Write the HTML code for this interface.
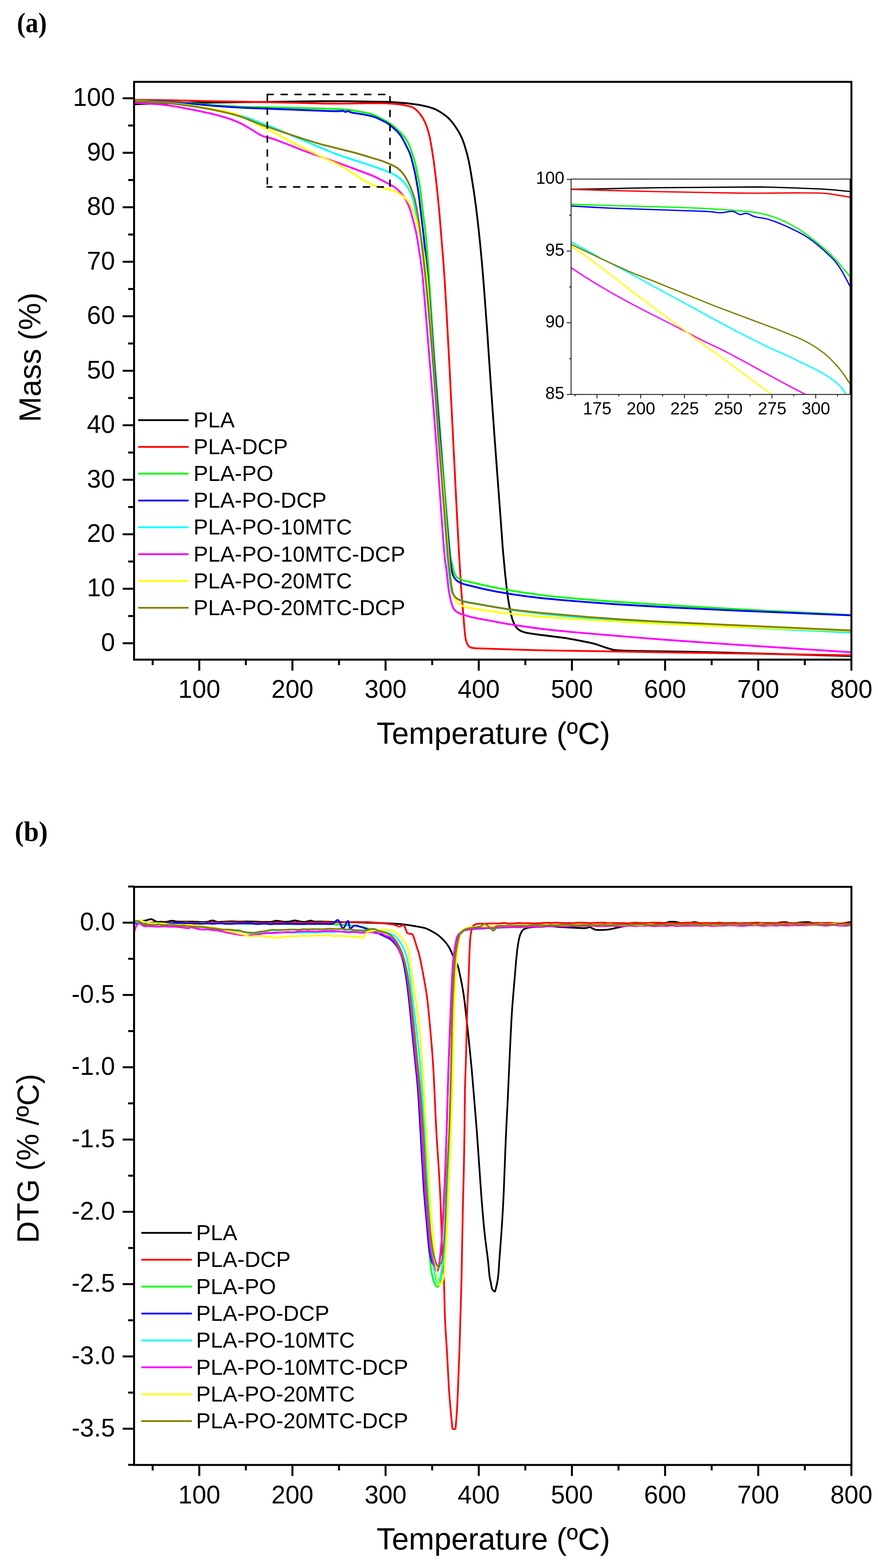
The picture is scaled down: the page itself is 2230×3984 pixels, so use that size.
<!DOCTYPE html><html><head><meta charset="utf-8"><title>TGA and DTG curves</title>
<style>html,body{margin:0;padding:0;background:#fff;}svg{display:block;}</style></head><body>
<svg width="2230" height="3984" viewBox="0 0 2230 3984">
<rect width="2230" height="3984" fill="#fff"/>
<text x="43" y="82" font-family='"Liberation Serif", "Times New Roman", serif' font-weight="bold" font-size="72" textLength="76" lengthAdjust="spacingAndGlyphs">(a)</text>
<defs><clipPath id="ca"><rect x="340.5" y="208.0" width="1822.0" height="1468.0"/></clipPath></defs>
<g clip-path="url(#ca)" fill="none" stroke-width="4.6" stroke-linejoin="round" stroke-linecap="round">
<path stroke="#000000" d="M340.5,265.0 L383.5,263.5 L494.4,261.1 L817.4,257.1 L884.4,257.3 L982.4,258.9 L1002.4,259.7 L1033.3,262.4 L1062.0,266.0 L1071.9,267.9 L1082.6,270.3 L1092.2,272.9 L1100.8,275.7 L1108.1,278.9 L1115.1,282.6 L1124.4,288.6 L1132.4,294.5 L1137.8,299.0 L1142.7,303.9 L1148.0,309.9 L1152.8,316.3 L1158.5,324.5 L1163.9,332.9 L1168.2,340.8 L1172.2,348.9 L1175.7,357.2 L1179.1,366.6 L1185.6,388.6 L1190.6,409.0 L1195.0,432.6 L1203.6,486.9 L1209.2,527.5 L1214.6,573.2 L1219.8,622.9 L1224.3,670.7 L1228.8,725.5 L1237.1,837.2 L1245.8,965.9 L1256.7,1119.6 L1271.6,1319.0 L1277.1,1395.8 L1283.0,1458.5 L1286.8,1493.3 L1290.3,1520.1 L1293.9,1541.8 L1298.0,1561.4 L1301.7,1574.8 L1305.8,1585.0 L1308.1,1589.4 L1310.9,1593.5 L1313.5,1596.5 L1316.4,1599.1 L1321.3,1602.3 L1326.7,1604.8 L1333.4,1606.9 L1342.1,1608.8 L1360.9,1611.6 L1432.4,1620.6 L1461.9,1625.7 L1492.3,1631.7 L1505.0,1634.5 L1514.7,1637.1 L1538.3,1645.4 L1551.6,1649.5 L1559.4,1651.2 L1569.3,1652.3 L1583.3,1653.1 L1603.3,1653.7 L1752.3,1656.0 L1809.3,1657.2 L2164.8,1667.0"/>
<path stroke="#FF0000" d="M340.5,253.7 L435.5,254.9 L540.5,257.4 L696.4,259.9 L827.4,263.1 L868.4,263.2 L950.4,262.0 L974.4,262.3 L993.4,263.1 L1009.3,264.4 L1023.2,266.4 L1037.8,269.4 L1042.6,270.7 L1047.3,272.5 L1050.8,274.3 L1054.1,276.5 L1060.0,281.7 L1067.1,290.1 L1073.4,299.1 L1077.2,306.1 L1080.6,313.3 L1083.8,321.7 L1087.0,331.2 L1091.3,347.6 L1096.0,373.2 L1101.7,409.7 L1107.3,455.4 L1111.3,492.2 L1116.3,545.0 L1126.1,664.6 L1129.2,709.4 L1132.8,768.3 L1141.3,925.1 L1160.2,1300.6 L1165.9,1406.5 L1171.3,1496.3 L1179.9,1600.0 L1181.7,1616.9 L1183.2,1625.7 L1185.5,1633.3 L1188.0,1638.6 L1189.7,1640.9 L1191.6,1642.8 L1194.8,1644.7 L1198.3,1645.8 L1203.2,1646.7 L1211.1,1647.3 L1318.1,1650.8 L1372.0,1652.3 L2163.2,1665.0"/>
<path stroke="#00FF00" d="M340.5,255.5 L403.5,257.5 L447.4,259.7 L493.3,262.8 L548.1,267.6 L606.0,271.1 L631.0,271.9 L691.0,272.8 L829.9,276.0 L868.9,277.8 L883.8,279.0 L896.7,280.6 L931.2,286.8 L943.8,289.9 L950.3,292.3 L956.7,295.2 L979.7,307.3 L986.6,311.3 L992.4,315.2 L999.5,320.7 L1007.8,327.9 L1015.1,334.7 L1021.4,341.1 L1026.6,347.2 L1030.7,352.8 L1033.9,357.9 L1037.2,364.1 L1042.9,377.9 L1051.2,402.6 L1054.1,413.1 L1056.4,422.9 L1065.3,468.0 L1067.7,481.8 L1074.3,540.4 L1080.2,585.0 L1082.8,611.9 L1088.6,687.7 L1099.4,854.3 L1104.9,931.1 L1129.1,1239.2 L1141.9,1393.7 L1143.5,1409.6 L1144.8,1418.5 L1151.9,1449.6 L1154.1,1456.2 L1156.7,1461.5 L1159.6,1465.4 L1163.2,1468.7 L1167.4,1471.2 L1171.9,1473.1 L1188.3,1477.5 L1247.8,1490.9 L1282.1,1497.8 L1315.6,1503.5 L1371.1,1511.5 L1392.9,1514.2 L1422.7,1517.2 L1478.5,1522.2 L1542.3,1527.4 L1642.1,1534.2 L1898.6,1549.3 L2164.5,1563.0"/>
<path stroke="#0000FF" d="M340.5,256.2 L401.5,258.1 L441.4,260.2 L493.3,264.0 L530.1,267.8 L549.0,269.4 L585.9,272.0 L619.9,273.9 L844.7,282.5 L863.7,282.6 L866.5,282.2 L869.2,281.0 L870.7,281.3 L874.9,283.6 L876.7,284.2 L878.5,284.1 L882.0,282.6 L883.8,282.4 L885.6,282.9 L891.1,285.4 L894.9,286.4 L924.6,291.0 L941.2,294.5 L952.7,297.9 L962.8,302.2 L979.8,310.6 L984.1,313.3 L988.9,316.8 L999.0,325.0 L1007.1,332.4 L1013.3,339.0 L1018.1,345.3 L1021.9,351.3 L1026.2,359.1 L1037.7,382.4 L1041.3,390.7 L1044.7,401.2 L1050.6,424.4 L1054.6,442.0 L1061.6,481.4 L1063.8,497.2 L1075.8,597.5 L1082.2,660.2 L1085.9,700.0 L1126.3,1229.4 L1134.2,1323.1 L1142.3,1413.7 L1143.5,1424.7 L1146.4,1445.5 L1147.6,1451.4 L1149.4,1458.1 L1151.5,1463.7 L1154.5,1468.9 L1158.4,1473.5 L1162.2,1476.7 L1166.4,1479.3 L1171.0,1481.4 L1176.6,1483.6 L1183.3,1485.6 L1227.0,1496.3 L1261.3,1503.2 L1301.7,1510.0 L1340.3,1515.5 L1377.1,1519.9 L1422.9,1524.3 L1486.6,1529.5 L1562.4,1535.1 L1619.3,1538.6 L1709.2,1543.6 L1871.0,1551.5 L2164.7,1563.5"/>
<path stroke="#00FFFF" d="M340.5,256.5 L387.4,258.7 L415.4,260.5 L453.2,264.0 L485.0,267.8 L518.5,273.3 L561.7,281.8 L593.9,288.9 L616.1,295.0 L633.1,300.9 L691.1,322.9 L809.8,373.4 L852.4,390.8 L874.0,398.5 L955.8,425.1 L971.8,430.8 L987.6,437.2 L996.7,441.3 L1002.9,444.5 L1008.0,447.7 L1013.6,451.8 L1020.4,457.7 L1026.0,463.3 L1030.5,468.7 L1035.1,475.2 L1040.0,483.9 L1044.4,493.9 L1048.7,506.2 L1051.8,517.8 L1056.2,539.3 L1061.3,561.8 L1064.7,579.4 L1068.3,603.1 L1072.9,638.9 L1082.4,728.4 L1090.4,816.0 L1096.2,883.7 L1100.9,944.6 L1112.0,1100.2 L1123.7,1245.7 L1134.9,1398.3 L1138.0,1436.2 L1142.2,1473.9 L1144.5,1490.8 L1146.2,1499.6 L1147.9,1505.3 L1150.5,1510.6 L1153.4,1514.5 L1157.7,1518.5 L1162.7,1521.6 L1169.0,1524.4 L1176.6,1526.9 L1187.3,1529.5 L1281.7,1546.9 L1299.5,1549.9 L1320.3,1552.7 L1376.8,1559.7 L1504.3,1571.8 L1571.0,1577.2 L1638.9,1581.5 L2164.5,1607.6"/>
<path stroke="#FF00FF" d="M340.5,261.2 L381.4,263.4 L405.4,265.2 L427.2,267.8 L451.9,271.6 L493.2,279.4 L533.3,288.1 L561.4,295.2 L574.8,299.2 L586.2,303.0 L602.9,309.6 L618.2,316.9 L630.4,323.9 L655.8,339.8 L661.9,343.2 L667.3,345.7 L673.9,347.9 L689.4,351.5 L700.8,355.3 L732.5,367.4 L777.1,385.2 L864.0,415.6 L936.1,442.5 L951.9,448.9 L991.9,469.5 L998.8,473.4 L1003.8,476.7 L1010.0,481.7 L1017.0,488.8 L1022.8,495.7 L1028.5,503.8 L1032.0,509.9 L1035.1,516.1 L1038.6,524.4 L1042.0,533.8 L1045.2,544.4 L1055.0,582.1 L1057.9,595.8 L1061.4,616.5 L1067.7,657.0 L1071.2,682.8 L1073.9,707.6 L1082.0,803.3 L1101.3,1039.5 L1109.6,1147.2 L1125.5,1368.6 L1129.2,1412.4 L1130.6,1425.4 L1134.1,1450.1 L1138.7,1491.9 L1140.8,1505.7 L1143.3,1518.5 L1146.8,1533.0 L1150.1,1542.4 L1152.0,1545.9 L1154.2,1549.1 L1156.1,1551.3 L1159.0,1553.9 L1164.9,1557.5 L1172.3,1560.4 L1194.2,1567.2 L1212.8,1571.2 L1254.1,1578.8 L1279.6,1583.8 L1296.4,1586.6 L1356.7,1595.4 L1382.5,1598.6 L1409.4,1601.6 L1460.1,1606.5 L1526.9,1612.3 L1631.5,1621.0 L1705.3,1626.6 L1849.0,1636.7 L2164.5,1657.5"/>
<path stroke="#FFFF00" d="M340.5,256.2 L425.4,261.2 L448.3,263.2 L472.1,266.1 L522.5,273.6 L558.0,279.7 L583.4,285.3 L593.0,288.0 L601.5,290.8 L610.8,294.5 L620.8,299.1 L663.4,321.3 L690.7,333.7 L737.2,359.0 L808.8,394.8 L824.1,402.1 L850.7,413.7 L860.6,418.6 L870.2,423.9 L881.3,430.6 L922.3,457.4 L937.2,465.6 L946.3,469.6 L955.8,472.9 L966.4,475.9 L984.8,480.4 L993.4,482.9 L1001.9,486.0 L1010.0,489.7 L1018.6,494.9 L1026.5,501.0 L1032.9,507.2 L1038.4,514.3 L1044.6,525.6 L1050.6,538.3 L1053.9,547.7 L1058.9,565.0 L1065.0,588.2 L1073.0,622.3 L1076.8,641.9 L1079.6,661.7 L1084.6,706.4 L1087.2,736.3 L1098.8,890.9 L1113.6,1094.3 L1126.9,1248.8 L1138.1,1394.3 L1141.5,1435.2 L1146.7,1482.9 L1149.1,1498.7 L1151.4,1510.5 L1154.1,1519.0 L1157.1,1525.2 L1160.6,1530.0 L1165.7,1534.6 L1170.7,1537.7 L1176.2,1540.1 L1182.8,1542.2 L1190.6,1544.0 L1214.3,1548.1 L1273.6,1556.8 L1294.5,1559.3 L1340.2,1563.8 L1376.1,1566.9 L1413.0,1569.6 L1475.9,1573.7 L1548.8,1578.0 L1644.6,1583.1 L1713.5,1586.5 L1854.4,1592.2 L2164.6,1603.4"/>
<path stroke="#808000" d="M340.5,257.4 L384.5,259.3 L410.4,260.9 L439.3,263.5 L469.1,267.0 L500.7,271.6 L535.2,277.7 L567.5,284.4 L591.8,290.4 L607.1,295.0 L621.3,299.9 L658.3,314.9 L669.6,319.2 L692.4,326.6 L740.6,343.2 L776.7,354.9 L803.5,363.1 L822.8,368.6 L888.8,384.9 L907.1,389.7 L960.8,405.9 L973.1,409.9 L983.3,413.9 L996.1,419.6 L1002.4,422.7 L1008.3,426.4 L1013.8,430.7 L1018.8,435.5 L1024.0,441.6 L1029.1,448.9 L1035.6,460.2 L1043.1,476.5 L1050.1,495.2 L1053.8,507.7 L1058.0,528.2 L1062.7,554.8 L1073.2,633.1 L1083.5,730.6 L1091.2,814.2 L1096.8,879.0 L1101.6,940.8 L1113.7,1109.4 L1138.1,1418.4 L1143.9,1468.1 L1146.9,1490.9 L1148.4,1499.7 L1150.2,1506.4 L1152.6,1511.8 L1155.9,1516.7 L1160.2,1520.6 L1165.2,1523.7 L1170.7,1526.0 L1178.3,1528.3 L1187.1,1530.4 L1252.1,1541.7 L1288.7,1547.4 L1317.4,1551.0 L1372.1,1557.0 L1500.6,1568.2 L1578.4,1573.9 L1667.2,1579.0 L1845.0,1587.5 L2163.6,1601.9"/>
</g>
<g stroke="#000" stroke-width="4" stroke-dasharray="18.5 16.9" fill="none">
<line x1="677.0" y1="239.9" x2="992.5" y2="239.9"/>
<line x1="677.0" y1="475.0" x2="992.5" y2="475.0" stroke-dashoffset="3.5"/>
<line x1="679.0" y1="237.9" x2="679.0" y2="477.0"/>
<line x1="990.5" y1="237.9" x2="990.5" y2="477.0" stroke-dashoffset="-6"/>
</g>
<defs><clipPath id="ci"><rect x="1450.5" y="455.0" width="708.5" height="547.2"/></clipPath></defs>
<rect x="1450.5" y="455.0" width="708.5" height="547.2" fill="#fff"/>
<g clip-path="url(#ci)" fill="none" stroke-width="3.3" stroke-linejoin="round" stroke-linecap="round">
<path stroke="#000000" d="M1450.0,481.0 L1516.0,480.1 L1597.0,478.1 L1677.0,476.8 L1926.9,475.0 L1958.9,475.6 L2013.9,477.3 L2088.9,480.4 L2116.8,482.3 L2161.5,486.9"/>
<path stroke="#FF0000" d="M1450.0,481.1 L1515.0,483.0 L1667.9,486.9 L1871.9,490.5 L1918.9,490.8 L2025.9,490.0 L2076.9,490.4 L2093.9,491.2 L2106.8,492.5 L2161.9,501.5"/>
<path stroke="#00FF00" d="M1450.0,519.0 L1542.9,522.1 L1714.9,526.7 L1780.8,529.2 L1852.7,533.6 L1903.5,537.8 L1913.5,538.9 L1923.3,540.5 L1944.8,545.3 L1959.2,549.4 L1972.4,554.0 L1985.4,559.3 L1999.0,565.6 L2012.3,572.6 L2026.1,580.7 L2038.7,588.8 L2051.7,598.1 L2067.6,610.3 L2084.6,624.2 L2097.5,635.3 L2108.4,645.5 L2119.7,656.9 L2129.1,667.2 L2161.9,705.9"/>
<path stroke="#0000FF" d="M1450.0,523.4 L1512.9,527.0 L1550.9,528.8 L1790.7,537.0 L1804.7,537.9 L1822.5,540.1 L1828.5,540.6 L1836.5,540.2 L1853.3,537.4 L1860.2,537.0 L1863.2,537.6 L1866.9,538.9 L1875.6,543.8 L1878.4,544.9 L1880.4,545.1 L1882.3,545.0 L1891.9,542.2 L1896.9,542.3 L1902.6,544.0 L1912.4,548.9 L1918.1,550.9 L1923.9,552.1 L1941.7,554.9 L1952.4,557.5 L1969.4,563.4 L1988.9,571.2 L2006.2,579.0 L2029.5,590.5 L2042.6,597.8 L2053.6,604.8 L2065.0,613.0 L2077.4,623.0 L2092.5,636.1 L2107.2,649.7 L2117.8,660.3 L2124.9,668.7 L2132.9,680.2 L2139.2,690.4 L2147.4,705.3 L2161.9,732.9"/>
<path stroke="#00FFFF" d="M1450.0,614.3 L1486.1,633.8 L1527.9,657.3 L1570.7,679.0 L1608.7,699.2 L1692.8,745.4 L1729.0,764.7 L1817.5,813.3 L1870.4,841.7 L1944.5,879.0 L1958.1,885.4 L1985.7,897.3 L2012.8,910.0 L2067.7,936.7 L2086.2,946.5 L2100.8,955.3 L2113.2,963.7 L2124.2,972.4 L2133.0,980.5 L2139.1,987.1 L2143.3,992.7 L2157.7,1017.4"/>
<path stroke="#FF00FF" d="M1450.0,679.9 L1484.2,702.5 L1515.7,722.0 L1553.6,744.3 L1589.4,764.2 L1638.0,789.9 L1714.8,828.6 L1783.0,864.4 L1834.4,889.1 L1853.1,898.6 L1881.3,913.7 L2003.3,980.3 L2079.5,1019.7"/>
<path stroke="#FFFF00" d="M1450.0,624.7 L1482.9,647.4 L1510.4,667.4 L1564.8,708.2 L1605.7,740.4 L1622.4,753.1 L1747.5,846.3 L1853.4,923.4 L1989.4,1024.6"/>
<path stroke="#808000" d="M1450.0,620.6 L1527.6,657.7 L1598.6,689.9 L1612.4,695.9 L1659.0,713.9 L1810.9,775.8 L1917.6,815.9 L1969.2,835.0 L2025.8,857.8 L2040.3,864.4 L2058.8,874.3 L2074.9,884.4 L2092.9,897.1 L2104.2,906.9 L2120.2,923.4 L2128.9,933.1 L2135.3,940.8 L2145.3,954.5 L2161.7,979.6"/>
</g>
<g stroke="#222" stroke-width="2.3" fill="none"><rect x="1450.5" y="455.0" width="708.5" height="547.2"/><line x1="1450.5" y1="1002.3" x2="1439.5" y2="1002.3"/><line x1="1450.5" y1="911.2" x2="1445.5" y2="911.2"/><line x1="1450.5" y1="820.1" x2="1439.5" y2="820.1"/><line x1="1450.5" y1="729.0" x2="1445.5" y2="729.0"/><line x1="1450.5" y1="637.9" x2="1439.5" y2="637.9"/><line x1="1450.5" y1="546.8" x2="1445.5" y2="546.8"/><line x1="1450.5" y1="455.7" x2="1439.5" y2="455.7"/><line x1="1460.6" y1="1002.2" x2="1460.6" y2="1007.2"/><line x1="1516.2" y1="1002.2" x2="1516.2" y2="1012.2"/><line x1="1571.7" y1="1002.2" x2="1571.7" y2="1007.2"/><line x1="1627.3" y1="1002.2" x2="1627.3" y2="1012.2"/><line x1="1682.8" y1="1002.2" x2="1682.8" y2="1007.2"/><line x1="1738.4" y1="1002.2" x2="1738.4" y2="1012.2"/><line x1="1793.9" y1="1002.2" x2="1793.9" y2="1007.2"/><line x1="1849.5" y1="1002.2" x2="1849.5" y2="1012.2"/><line x1="1905.0" y1="1002.2" x2="1905.0" y2="1007.2"/><line x1="1960.6" y1="1002.2" x2="1960.6" y2="1012.2"/><line x1="2016.1" y1="1002.2" x2="2016.1" y2="1007.2"/><line x1="2071.7" y1="1002.2" x2="2071.7" y2="1012.2"/><line x1="2127.2" y1="1002.2" x2="2127.2" y2="1007.2"/></g>
<g font-family='"Liberation Sans", Arial, sans-serif' font-size="43.5" fill="#000"><text x="1433.5" y="467.4" text-anchor="end">100</text><text x="1433.5" y="649.6" text-anchor="end">95</text><text x="1433.5" y="831.8" text-anchor="end">90</text><text x="1433.5" y="1014.0" text-anchor="end">85</text><text x="1516.7" y="1053.3" text-anchor="middle">175</text><text x="1627.8" y="1053.3" text-anchor="middle">200</text><text x="1738.9" y="1053.3" text-anchor="middle">225</text><text x="1850.0" y="1053.3" text-anchor="middle">250</text><text x="1961.1" y="1053.3" text-anchor="middle">275</text><text x="2072.2" y="1053.3" text-anchor="middle">300</text></g>
<rect x="340.5" y="208.0" width="1822.0" height="1468.0" fill="none" stroke="#000" stroke-width="5"/>
<g stroke="#000" stroke-width="5" fill="none"><line x1="340.5" y1="1634.4" x2="311.5" y2="1634.4"/><line x1="340.5" y1="1565.2" x2="325.5" y2="1565.2"/><line x1="340.5" y1="1495.9" x2="311.5" y2="1495.9"/><line x1="340.5" y1="1426.7" x2="325.5" y2="1426.7"/><line x1="340.5" y1="1357.5" x2="311.5" y2="1357.5"/><line x1="340.5" y1="1288.2" x2="325.5" y2="1288.2"/><line x1="340.5" y1="1219.0" x2="311.5" y2="1219.0"/><line x1="340.5" y1="1149.8" x2="325.5" y2="1149.8"/><line x1="340.5" y1="1080.5" x2="311.5" y2="1080.5"/><line x1="340.5" y1="1011.3" x2="325.5" y2="1011.3"/><line x1="340.5" y1="942.1" x2="311.5" y2="942.1"/><line x1="340.5" y1="872.8" x2="325.5" y2="872.8"/><line x1="340.5" y1="803.6" x2="311.5" y2="803.6"/><line x1="340.5" y1="734.3" x2="325.5" y2="734.3"/><line x1="340.5" y1="665.1" x2="311.5" y2="665.1"/><line x1="340.5" y1="595.9" x2="325.5" y2="595.9"/><line x1="340.5" y1="526.6" x2="311.5" y2="526.6"/><line x1="340.5" y1="457.4" x2="325.5" y2="457.4"/><line x1="340.5" y1="388.2" x2="311.5" y2="388.2"/><line x1="340.5" y1="318.9" x2="325.5" y2="318.9"/><line x1="340.5" y1="249.7" x2="311.5" y2="249.7"/></g>
<g font-family='"Liberation Sans", Arial, sans-serif' font-size="64" text-anchor="end" fill="#000"><text x="292" y="1653.9">0</text><text x="292" y="1515.4">10</text><text x="292" y="1377.0">20</text><text x="292" y="1238.5">30</text><text x="292" y="1100.0">40</text><text x="292" y="961.6">50</text><text x="292" y="823.1">60</text><text x="292" y="684.6">70</text><text x="292" y="546.1">80</text><text x="292" y="407.7">90</text><text x="292" y="269.2">100</text></g>
<text transform="translate(103,908) rotate(-90)" font-family='"Liberation Sans", Arial, sans-serif' font-size="78" text-anchor="middle">Mass (%)</text>
<g stroke="#000" stroke-width="5" fill="none"><line x1="387.8" y1="1676.0" x2="387.8" y2="1690.0"/><line x1="506.1" y1="1676.0" x2="506.1" y2="1704.0"/><line x1="624.4" y1="1676.0" x2="624.4" y2="1690.0"/><line x1="742.7" y1="1676.0" x2="742.7" y2="1704.0"/><line x1="861.0" y1="1676.0" x2="861.0" y2="1690.0"/><line x1="979.3" y1="1676.0" x2="979.3" y2="1704.0"/><line x1="1097.7" y1="1676.0" x2="1097.7" y2="1690.0"/><line x1="1216.0" y1="1676.0" x2="1216.0" y2="1704.0"/><line x1="1334.3" y1="1676.0" x2="1334.3" y2="1690.0"/><line x1="1452.6" y1="1676.0" x2="1452.6" y2="1704.0"/><line x1="1570.9" y1="1676.0" x2="1570.9" y2="1690.0"/><line x1="1689.2" y1="1676.0" x2="1689.2" y2="1704.0"/><line x1="1807.5" y1="1676.0" x2="1807.5" y2="1690.0"/><line x1="1925.8" y1="1676.0" x2="1925.8" y2="1704.0"/><line x1="2044.1" y1="1676.0" x2="2044.1" y2="1690.0"/><line x1="2162.4" y1="1676.0" x2="2162.4" y2="1704.0"/></g>
<g font-family='"Liberation Sans", Arial, sans-serif' font-size="64" text-anchor="middle" fill="#000"><text x="506.1" y="1772.5">100</text><text x="742.7" y="1772.5">200</text><text x="979.3" y="1772.5">300</text><text x="1216.0" y="1772.5">400</text><text x="1452.6" y="1772.5">500</text><text x="1689.2" y="1772.5">600</text><text x="1925.8" y="1772.5">700</text><text x="2162.4" y="1772.5">800</text></g>
<text x="1253.0" y="1890.2" font-family='"Liberation Sans", Arial, sans-serif' font-size="77.6" text-anchor="middle">Temperature (ºC)</text>
<g stroke-width="4.5"><line x1="351" y1="1067.4" x2="479" y2="1067.4" stroke="#000000"/><line x1="351" y1="1135.5" x2="479" y2="1135.5" stroke="#FF0000"/><line x1="351" y1="1203.6" x2="479" y2="1203.6" stroke="#00FF00"/><line x1="351" y1="1271.7" x2="479" y2="1271.7" stroke="#0000FF"/><line x1="351" y1="1339.8" x2="479" y2="1339.8" stroke="#00FFFF"/><line x1="351" y1="1408.0" x2="479" y2="1408.0" stroke="#FF00FF"/><line x1="351" y1="1476.1" x2="479" y2="1476.1" stroke="#FFFF00"/><line x1="351" y1="1544.2" x2="479" y2="1544.2" stroke="#808000"/></g>
<g font-family='"Liberation Sans", Arial, sans-serif' font-size="55.3" fill="#000"><text x="491.5" y="1085.9">PLA</text><text x="491.5" y="1154.0">PLA-DCP</text><text x="491.5" y="1222.1">PLA-PO</text><text x="491.5" y="1290.2">PLA-PO-DCP</text><text x="491.5" y="1358.3">PLA-PO-10MTC</text><text x="491.5" y="1426.5">PLA-PO-10MTC-DCP</text><text x="491.5" y="1494.6">PLA-PO-20MTC</text><text x="491.5" y="1562.7">PLA-PO-20MTC-DCP</text></g>
<text x="37.5" y="2137" font-family='"Liberation Serif", "Times New Roman", serif' font-weight="bold" font-size="72" textLength="84" lengthAdjust="spacingAndGlyphs">(b)</text>
<defs><clipPath id="cb"><rect x="340.5" y="2253.3" width="1822.0" height="1468.9"/></clipPath></defs>
<g clip-path="url(#cb)" fill="none" stroke-width="4.4" stroke-linejoin="round" stroke-linecap="round">
<path stroke="#000000" d="M340.5,2340.5 C342.4,2340.6 347.1,2341.2 352.0,2341.0 C356.9,2340.8 364.7,2339.9 370.0,2339.0 C375.3,2338.1 379.3,2335.0 384.0,2335.5 C388.7,2336.0 394.0,2340.9 398.0,2342.0 C402.0,2343.1 404.0,2341.9 408.0,2341.9 C412.0,2342.0 417.2,2342.7 422.0,2342.3 C426.7,2341.9 432.1,2339.6 436.6,2339.4 C441.0,2339.3 444.1,2341.0 448.8,2341.4 C453.4,2341.8 459.4,2341.7 464.4,2341.8 C469.4,2341.8 474.6,2341.6 478.8,2341.6 C482.9,2341.6 485.5,2341.7 489.1,2341.8 C492.6,2341.9 496.4,2341.9 500.0,2342.0 C503.6,2342.1 506.2,2342.5 510.5,2342.6 C514.8,2342.6 521.0,2343.0 525.8,2342.3 C530.6,2341.7 535.1,2338.7 539.3,2338.7 C543.5,2338.6 547.4,2341.5 551.1,2342.1 C554.8,2342.7 557.9,2342.3 561.4,2342.2 C564.9,2342.1 567.8,2341.8 572.1,2341.6 C576.4,2341.4 582.8,2341.1 587.4,2341.0 C592.1,2341.0 595.7,2341.4 600.0,2341.5 C604.3,2341.6 609.0,2341.9 613.3,2341.8 C617.6,2341.8 621.6,2341.4 625.8,2341.3 C630.0,2341.2 634.5,2341.4 638.5,2341.4 C642.6,2341.5 645.7,2341.5 650.1,2341.6 C654.4,2341.8 660.5,2342.2 664.7,2342.3 C669.0,2342.4 671.4,2342.3 675.5,2342.2 C679.6,2342.2 685.1,2342.7 689.5,2342.2 C693.9,2341.7 696.9,2339.4 702.0,2339.4 C707.1,2339.3 714.5,2341.6 720.0,2341.9 C725.5,2342.2 730.2,2342.0 735.0,2341.4 C739.9,2340.9 744.5,2338.8 749.0,2338.8 C753.5,2338.8 757.7,2340.9 762.1,2341.5 C766.6,2342.1 771.1,2342.5 775.5,2342.1 C779.9,2341.7 784.7,2339.2 788.5,2339.1 C792.3,2339.0 794.3,2341.1 798.3,2341.5 C802.2,2341.9 806.8,2341.4 812.3,2341.5 C817.8,2341.6 804.8,2341.2 831.0,2341.9 C857.2,2342.6 938.3,2344.4 969.7,2345.5 C1001.1,2346.6 1005.7,2347.1 1019.6,2348.3 C1033.5,2349.6 1042.8,2351.3 1052.9,2353.0 C1063.0,2354.7 1072.7,2356.1 1080.0,2358.3 C1087.3,2360.5 1091.0,2363.1 1096.6,2366.1 C1102.1,2369.1 1107.8,2372.3 1113.3,2376.6 C1118.8,2380.9 1125.3,2386.9 1129.9,2392.1 C1134.5,2397.3 1137.7,2402.0 1141.0,2407.7 C1144.3,2413.4 1146.4,2419.1 1149.9,2426.5 C1153.4,2433.9 1158.9,2443.1 1162.1,2452.0 C1165.2,2460.9 1166.8,2470.6 1168.8,2479.8 C1170.8,2489.1 1172.4,2496.6 1174.3,2507.5 C1176.2,2518.4 1177.5,2524.2 1180.0,2545.0 C1182.5,2565.8 1186.7,2604.8 1189.6,2632.3 C1192.5,2659.8 1194.8,2682.1 1197.4,2710.0 C1200.0,2737.9 1202.6,2771.1 1205.0,2800.0 C1207.4,2828.9 1209.6,2855.6 1211.7,2883.4 C1213.8,2911.2 1215.5,2939.1 1217.5,2966.9 C1219.5,2994.7 1221.2,3022.5 1223.4,3050.3 C1225.6,3078.1 1228.3,3108.7 1230.9,3133.7 C1233.5,3158.7 1237.1,3182.4 1239.2,3200.5 C1241.3,3218.6 1242.1,3232.5 1243.3,3242.2 C1244.5,3251.9 1245.5,3253.2 1246.6,3258.8 C1247.7,3264.4 1248.5,3271.8 1250.0,3275.5 C1251.5,3279.2 1254.2,3280.2 1255.5,3281.0 C1256.8,3281.8 1256.8,3282.3 1257.7,3280.0 C1258.6,3277.7 1260.0,3271.6 1261.0,3267.2 C1262.0,3262.8 1263.0,3258.4 1263.8,3253.3 C1264.6,3248.2 1265.2,3245.4 1266.0,3236.6 C1266.8,3227.8 1267.2,3217.7 1268.4,3200.5 C1269.6,3183.3 1271.7,3158.7 1273.4,3133.7 C1275.1,3108.7 1277.0,3078.1 1278.4,3050.3 C1279.8,3022.5 1280.7,2994.7 1281.8,2966.9 C1282.9,2939.1 1283.8,2911.2 1285.1,2883.4 C1286.3,2855.6 1287.7,2833.9 1289.3,2800.0 C1290.9,2766.1 1292.9,2717.5 1294.7,2680.0 C1296.5,2642.5 1298.0,2607.1 1300.0,2575.0 C1302.0,2542.9 1305.2,2510.0 1307.0,2487.5 C1308.8,2465.0 1309.7,2453.9 1311.0,2440.0 C1312.3,2426.1 1313.4,2414.5 1315.0,2404.0 C1316.6,2393.5 1318.2,2383.9 1320.5,2377.0 C1322.8,2370.1 1325.3,2365.7 1328.8,2362.4 C1332.3,2359.1 1336.1,2358.4 1341.3,2357.2 C1346.5,2356.0 1350.2,2355.7 1360.0,2355.1 C1369.8,2354.5 1389.7,2353.5 1400.0,2353.5 C1410.3,2353.5 1408.2,2354.4 1422.0,2355.2 C1435.8,2356.0 1470.3,2358.1 1483.0,2358.2 C1495.7,2358.3 1493.3,2355.1 1498.4,2355.8 C1503.5,2356.5 1506.0,2361.5 1513.6,2362.5 C1521.2,2363.5 1536.4,2362.5 1544.0,2361.9 C1551.6,2361.3 1551.7,2360.3 1559.4,2358.8 C1567.1,2357.3 1577.3,2354.9 1590.0,2352.7 C1602.7,2350.5 1626.1,2346.7 1635.7,2345.5 C1645.3,2344.3 1643.3,2345.8 1647.5,2345.8 C1651.7,2345.8 1656.5,2345.6 1661.1,2345.4 C1665.7,2345.3 1670.2,2345.1 1675.0,2345.0 C1679.9,2344.8 1685.8,2345.2 1690.1,2344.8 C1694.4,2344.3 1696.8,2342.6 1700.9,2342.2 C1704.9,2341.8 1709.5,2341.7 1714.4,2342.2 C1719.2,2342.7 1725.7,2344.7 1730.0,2345.2 C1734.3,2345.7 1736.4,2345.3 1740.0,2345.3 C1743.6,2345.3 1747.3,2345.7 1751.4,2345.3 C1755.5,2344.8 1760.5,2342.4 1764.5,2342.4 C1768.4,2342.4 1771.0,2344.6 1774.9,2345.2 C1778.9,2345.9 1784.1,2346.0 1788.1,2346.1 C1792.1,2346.1 1794.5,2345.8 1798.9,2345.7 C1803.4,2345.6 1810.4,2345.4 1814.9,2345.3 C1819.4,2345.2 1821.3,2345.1 1825.8,2345.2 C1830.3,2345.2 1837.7,2345.5 1841.8,2345.6 C1845.8,2345.6 1847.0,2345.6 1850.0,2345.5 C1853.0,2345.4 1855.7,2345.1 1859.6,2345.2 C1863.4,2345.3 1868.8,2345.9 1872.9,2346.0 C1877.1,2346.1 1880.2,2345.9 1884.4,2345.8 C1888.7,2345.6 1894.6,2345.1 1898.5,2345.1 C1902.4,2345.1 1903.7,2345.8 1907.7,2345.8 C1911.6,2345.8 1918.3,2345.1 1922.3,2345.1 C1926.2,2345.1 1927.7,2345.9 1931.3,2346.0 C1934.9,2346.0 1939.7,2345.3 1943.8,2345.2 C1948.0,2345.1 1951.5,2345.2 1956.0,2345.3 C1960.5,2345.4 1966.2,2346.1 1970.9,2345.8 C1975.6,2345.4 1979.8,2343.7 1984.3,2343.3 C1988.7,2342.9 1993.3,2342.8 1997.3,2343.3 C2001.4,2343.7 2004.8,2345.9 2008.4,2346.3 C2012.1,2346.7 2014.9,2346.0 2019.0,2345.6 C2023.1,2345.2 2029.1,2344.1 2033.0,2343.7 C2036.8,2343.3 2039.1,2343.3 2042.3,2343.1 C2045.5,2343.0 2048.5,2342.3 2052.4,2342.7 C2056.3,2343.0 2060.9,2344.8 2065.8,2345.3 C2070.6,2345.7 2076.7,2345.3 2081.5,2345.4 C2086.3,2345.4 2090.1,2345.4 2094.6,2345.4 C2099.1,2345.5 2104.8,2345.6 2108.8,2345.7 C2112.7,2345.9 2115.2,2346.3 2118.5,2346.4 C2121.7,2346.5 2124.1,2346.6 2128.3,2346.5 C2132.5,2346.4 2138.7,2346.2 2143.7,2345.7 C2148.7,2345.1 2154.6,2343.1 2158.2,2343.2 C2161.7,2343.2 2163.9,2345.5 2165.0,2346.0"/>
<path stroke="#FF0000" d="M340.5,2344.0 C342.7,2343.9 348.8,2343.3 353.6,2343.5 C358.4,2343.6 364.7,2344.7 369.3,2344.8 C374.0,2345.0 377.8,2344.6 381.6,2344.4 C385.4,2344.2 388.5,2343.6 392.1,2343.6 C395.7,2343.6 399.5,2344.2 403.1,2344.5 C406.7,2344.7 410.3,2345.1 413.6,2345.0 C416.9,2344.8 419.9,2343.7 423.1,2343.6 C426.3,2343.5 429.2,2344.6 432.7,2344.7 C436.2,2344.7 440.5,2344.2 444.3,2344.1 C448.1,2344.1 451.7,2344.5 455.6,2344.5 C459.4,2344.4 463.4,2343.8 467.4,2343.7 C471.4,2343.6 475.8,2343.7 479.4,2343.9 C483.0,2344.1 485.7,2344.8 489.2,2344.9 C492.6,2344.9 495.9,2344.3 500.0,2344.3 C504.1,2344.3 509.4,2345.0 513.7,2345.0 C517.9,2345.0 521.5,2344.3 525.4,2344.1 C529.4,2344.0 533.1,2344.3 537.4,2344.2 C541.7,2344.1 546.7,2343.5 551.1,2343.5 C555.4,2343.6 559.4,2344.5 563.3,2344.5 C567.3,2344.5 570.5,2343.7 574.7,2343.6 C579.0,2343.4 584.2,2343.5 588.7,2343.6 C593.1,2343.6 597.9,2343.8 601.6,2343.9 C605.3,2343.9 607.7,2343.9 610.9,2343.9 C614.0,2343.9 616.4,2343.7 620.3,2343.9 C624.2,2344.1 629.9,2344.8 634.1,2345.0 C638.3,2345.1 641.7,2344.9 645.6,2344.8 C649.6,2344.8 653.4,2344.7 658.0,2344.6 C662.5,2344.5 668.1,2344.2 673.1,2344.3 C678.1,2344.3 683.4,2345.1 688.2,2345.0 C693.0,2344.9 698.1,2344.0 702.0,2343.8 C705.9,2343.6 708.6,2343.7 711.6,2343.8 C714.6,2344.0 716.0,2344.5 720.0,2344.7 C724.0,2344.9 730.5,2345.4 735.6,2345.2 C740.7,2345.0 745.7,2343.7 750.5,2343.6 C755.3,2343.5 759.7,2344.5 764.4,2344.6 C769.2,2344.8 775.0,2344.7 779.1,2344.5 C783.2,2344.3 785.0,2343.3 789.1,2343.3 C793.2,2343.2 798.7,2344.1 803.6,2344.1 C808.6,2344.1 814.3,2343.5 818.9,2343.4 C823.4,2343.2 827.3,2343.2 831.0,2343.3 C834.7,2343.4 836.8,2344.2 841.0,2344.1 C845.2,2344.1 852.1,2343.1 856.2,2343.0 C860.3,2342.9 861.8,2343.4 865.6,2343.4 C869.5,2343.4 875.6,2343.1 879.5,2343.0 C883.3,2342.9 884.8,2343.0 888.9,2342.9 C892.9,2342.8 898.6,2342.6 903.6,2342.6 C908.7,2342.6 914.9,2342.8 919.2,2342.9 C923.5,2342.9 925.8,2342.5 929.6,2342.6 C933.4,2342.7 930.6,2342.3 941.9,2343.3 C953.2,2344.3 985.4,2347.0 997.4,2348.8 C1009.4,2350.7 1009.8,2354.2 1014.0,2354.4 C1018.2,2354.6 1020.1,2350.2 1022.4,2350.2 C1024.7,2350.2 1025.8,2350.9 1027.9,2354.4 C1030.0,2357.9 1031.6,2367.8 1034.8,2371.0 C1038.0,2374.2 1044.3,2371.0 1047.3,2373.8 C1050.3,2376.6 1050.8,2381.7 1052.9,2387.7 C1055.0,2393.7 1057.7,2403.2 1059.8,2410.0 C1061.9,2416.8 1062.9,2417.3 1065.4,2428.5 C1068.0,2439.7 1071.9,2459.2 1075.1,2477.0 C1078.3,2494.8 1081.9,2512.7 1084.8,2535.3 C1087.7,2558.0 1090.0,2583.8 1092.6,2612.9 C1095.2,2642.0 1097.7,2667.2 1100.3,2710.0 C1102.9,2752.8 1105.9,2830.4 1108.0,2870.0 C1110.1,2909.6 1111.4,2921.7 1113.0,2947.6 C1114.6,2973.5 1116.3,2999.4 1117.6,3025.3 C1118.9,3051.2 1119.8,3077.0 1120.7,3102.9 C1121.6,3128.8 1121.9,3156.8 1123.0,3180.6 C1124.1,3204.4 1126.1,3217.1 1127.3,3245.8 C1128.5,3274.5 1129.0,3322.1 1130.3,3352.6 C1131.6,3383.1 1133.5,3404.2 1134.9,3428.8 C1136.3,3453.4 1137.7,3481.5 1138.7,3500.0 C1139.7,3518.5 1139.9,3524.7 1141.0,3540.0 C1142.1,3555.3 1144.2,3578.1 1145.4,3591.8 C1146.6,3605.5 1147.6,3615.6 1148.3,3622.0 C1149.0,3628.4 1148.1,3628.6 1149.5,3630.0 C1150.9,3631.4 1155.2,3631.8 1156.5,3630.5 C1157.8,3629.2 1157.0,3628.4 1157.6,3622.0 C1158.2,3615.6 1159.2,3606.2 1160.1,3591.8 C1161.0,3577.5 1162.1,3554.5 1162.9,3535.9 C1163.7,3517.3 1164.3,3497.8 1165.0,3480.0 C1165.7,3462.2 1166.3,3450.0 1167.0,3428.8 C1167.7,3407.6 1168.5,3378.0 1169.2,3352.6 C1170.0,3327.2 1170.8,3301.7 1171.5,3276.3 C1172.2,3250.9 1172.4,3236.7 1173.1,3200.0 C1173.8,3163.3 1175.1,3095.8 1175.9,3056.3 C1176.8,3016.8 1177.6,2994.2 1178.2,2963.2 C1178.8,2932.1 1179.3,2902.5 1179.8,2870.0 C1180.3,2837.5 1180.3,2801.2 1181.0,2768.0 C1181.7,2734.8 1183.1,2704.0 1184.0,2671.0 C1184.9,2638.0 1185.5,2599.1 1186.5,2570.0 C1187.5,2540.9 1188.9,2519.8 1189.8,2496.4 C1190.7,2473.1 1191.3,2448.4 1192.1,2429.9 C1192.8,2411.4 1193.4,2396.6 1194.3,2385.5 C1195.2,2374.4 1196.3,2368.9 1197.6,2363.3 C1198.9,2357.8 1199.5,2354.9 1202.1,2352.2 C1204.7,2349.5 1206.9,2348.1 1213.2,2347.2 C1219.5,2346.3 1233.0,2346.8 1240.0,2346.6 C1247.0,2346.4 1251.1,2346.1 1255.3,2346.1 C1259.5,2346.1 1260.8,2346.8 1265.0,2346.6 C1269.1,2346.5 1275.4,2345.3 1280.2,2345.3 C1285.0,2345.3 1289.3,2346.6 1293.6,2346.7 C1297.9,2346.8 1301.4,2346.3 1305.8,2346.1 C1310.3,2345.8 1316.2,2345.3 1320.5,2345.3 C1324.7,2345.3 1327.4,2345.9 1331.4,2346.0 C1335.3,2346.0 1340.2,2345.6 1344.2,2345.6 C1348.3,2345.7 1351.9,2346.2 1355.6,2346.2 C1359.3,2346.2 1362.2,2345.9 1366.6,2345.7 C1371.0,2345.5 1377.8,2345.2 1381.9,2345.0 C1386.0,2344.8 1388.2,2344.6 1391.2,2344.6 C1394.3,2344.6 1396.9,2345.0 1400.0,2345.0 C1403.1,2345.0 1406.5,2344.4 1410.0,2344.3 C1413.6,2344.3 1417.5,2344.6 1421.4,2344.8 C1425.4,2344.9 1429.3,2345.2 1433.6,2345.3 C1437.9,2345.4 1443.1,2345.3 1447.3,2345.3 C1451.5,2345.3 1454.8,2345.5 1458.9,2345.3 C1462.9,2345.1 1467.4,2344.4 1471.7,2344.3 C1476.0,2344.2 1480.1,2344.5 1484.5,2344.7 C1488.9,2344.9 1494.2,2345.4 1498.3,2345.4 C1502.3,2345.5 1505.1,2345.0 1508.9,2344.9 C1512.8,2344.8 1517.5,2344.8 1521.1,2344.6 C1524.7,2344.5 1526.2,2344.1 1530.4,2344.2 C1534.6,2344.3 1541.7,2345.2 1546.4,2345.4 C1551.0,2345.6 1554.6,2345.3 1558.4,2345.3 C1562.3,2345.3 1564.9,2345.3 1569.3,2345.4 C1573.7,2345.4 1580.3,2345.4 1585.0,2345.5 C1589.6,2345.6 1592.6,2346.1 1597.2,2345.9 C1601.8,2345.7 1608.1,2344.4 1612.7,2344.2 C1617.2,2344.0 1620.8,2344.7 1624.6,2344.9 C1628.4,2345.1 1632.0,2345.1 1635.5,2345.2 C1639.0,2345.3 1641.3,2345.6 1645.5,2345.4 C1649.7,2345.3 1655.7,2344.4 1660.5,2344.2 C1665.3,2344.1 1669.8,2344.4 1674.3,2344.6 C1678.9,2344.8 1682.9,2345.2 1687.8,2345.3 C1692.7,2345.5 1699.1,2345.5 1703.6,2345.5 C1708.2,2345.5 1711.4,2345.4 1715.0,2345.4 C1718.6,2345.4 1721.4,2345.5 1725.0,2345.4 C1728.7,2345.2 1733.2,2344.7 1737.0,2344.6 C1740.7,2344.4 1743.4,2344.5 1747.6,2344.5 C1751.8,2344.4 1758.0,2344.3 1762.2,2344.3 C1766.4,2344.3 1769.4,2344.3 1772.8,2344.4 C1776.3,2344.6 1778.4,2345.3 1782.9,2345.4 C1787.5,2345.5 1794.9,2344.9 1800.0,2345.0 C1805.1,2345.1 1809.4,2345.9 1813.7,2345.7 C1818.0,2345.6 1822.1,2344.3 1825.8,2344.2 C1829.5,2344.1 1832.1,2344.8 1836.1,2345.1 C1840.2,2345.3 1845.7,2345.9 1850.1,2345.8 C1854.6,2345.7 1858.4,2344.6 1862.7,2344.6 C1867.0,2344.6 1871.8,2345.7 1875.9,2345.9 C1879.9,2346.1 1882.7,2346.0 1887.2,2345.9 C1891.6,2345.8 1897.9,2345.5 1902.5,2345.3 C1907.1,2345.0 1911.2,2344.6 1914.9,2344.5 C1918.6,2344.3 1920.8,2344.2 1924.7,2344.3 C1928.5,2344.5 1933.1,2345.4 1937.9,2345.6 C1942.8,2345.7 1948.6,2345.5 1953.9,2345.4 C1959.2,2345.3 1965.5,2345.2 1969.8,2345.1 C1974.2,2344.9 1976.3,2344.4 1979.8,2344.5 C1983.3,2344.5 1986.3,2345.2 1990.8,2345.3 C1995.3,2345.4 2002.3,2344.9 2006.7,2344.9 C2011.1,2345.0 2013.6,2345.6 2017.3,2345.7 C2021.1,2345.8 2025.4,2345.4 2029.1,2345.4 C2032.7,2345.5 2034.9,2345.9 2039.1,2346.0 C2043.4,2346.0 2049.4,2346.0 2054.6,2345.8 C2059.7,2345.7 2066.0,2345.2 2070.1,2345.1 C2074.2,2344.9 2075.3,2345.0 2079.3,2345.0 C2083.4,2345.1 2090.3,2345.4 2094.6,2345.3 C2098.9,2345.3 2101.6,2344.8 2105.0,2344.8 C2108.5,2344.8 2110.9,2345.1 2115.2,2345.3 C2119.4,2345.5 2125.7,2346.0 2130.7,2346.1 C2135.6,2346.2 2140.9,2346.0 2145.0,2345.9 C2149.1,2345.9 2152.0,2346.1 2155.3,2346.0 C2158.6,2345.9 2163.4,2345.6 2165.0,2345.5"/>
<path stroke="#00FF00" d="M340.5,2345.0 C342.2,2345.0 347.2,2345.2 350.5,2345.3 C353.9,2345.3 356.8,2345.5 360.7,2345.5 C364.6,2345.5 369.6,2345.0 374.0,2345.0 C378.4,2345.0 383.5,2345.3 387.3,2345.4 C391.1,2345.5 392.8,2345.4 396.6,2345.4 C400.4,2345.4 405.2,2345.3 409.9,2345.4 C414.7,2345.5 420.6,2346.0 425.1,2345.9 C429.6,2345.9 433.1,2345.0 436.7,2345.1 C440.3,2345.1 442.7,2346.0 446.6,2346.2 C450.6,2346.3 456.1,2346.0 460.5,2345.9 C464.8,2345.8 468.8,2345.8 472.6,2345.8 C476.3,2345.8 479.7,2345.8 483.1,2345.9 C486.5,2345.9 489.2,2346.0 493.1,2346.1 C497.0,2346.2 502.5,2346.4 506.5,2346.3 C510.6,2346.1 513.6,2345.3 517.3,2345.3 C520.9,2345.3 524.6,2346.2 528.6,2346.4 C532.6,2346.6 537.1,2346.7 541.2,2346.6 C545.3,2346.5 548.6,2346.2 553.2,2346.0 C557.7,2345.9 564.2,2345.6 568.5,2345.7 C572.8,2345.8 575.0,2346.4 579.0,2346.5 C583.0,2346.6 588.9,2346.3 592.4,2346.3 C595.9,2346.3 596.7,2346.4 600.0,2346.5 C603.3,2346.6 607.5,2346.8 612.1,2346.9 C616.6,2347.0 622.5,2347.3 627.3,2347.3 C632.1,2347.3 635.9,2346.9 640.8,2346.8 C645.6,2346.7 651.6,2346.7 656.4,2346.9 C661.2,2347.0 665.3,2347.7 669.8,2347.7 C674.3,2347.8 678.9,2347.0 683.6,2347.0 C688.2,2347.0 692.8,2347.4 697.8,2347.5 C702.7,2347.6 709.5,2347.7 713.2,2347.7 C716.9,2347.7 716.2,2347.5 720.0,2347.5 C723.8,2347.5 731.2,2347.5 735.8,2347.6 C740.4,2347.8 743.0,2348.5 747.6,2348.4 C752.2,2348.3 759.0,2347.1 763.2,2347.1 C767.4,2347.1 768.6,2348.3 772.7,2348.4 C776.8,2348.4 783.6,2347.6 787.9,2347.6 C792.2,2347.5 794.3,2348.2 798.7,2348.1 C803.1,2348.1 809.6,2347.3 814.3,2347.4 C818.9,2347.4 822.6,2348.1 826.4,2348.2 C830.2,2348.3 833.9,2347.9 836.9,2347.8 C840.0,2347.8 839.3,2347.6 844.8,2348.0 C850.3,2348.4 860.8,2349.3 870.0,2350.0 C879.2,2350.7 889.9,2350.7 900.0,2352.0 C910.1,2353.3 921.5,2355.2 930.8,2358.0 C940.1,2360.8 947.0,2364.7 955.8,2368.5 C964.6,2372.3 976.9,2377.5 983.5,2381.0 C990.1,2384.5 990.9,2385.0 995.5,2389.7 C1000.1,2394.4 1006.5,2401.0 1011.0,2409.1 C1015.5,2417.2 1019.5,2426.9 1022.7,2438.2 C1026.0,2449.5 1027.9,2460.8 1030.5,2477.0 C1033.1,2493.2 1035.6,2512.7 1038.2,2535.3 C1040.8,2558.0 1043.4,2587.0 1046.0,2612.9 C1048.6,2638.8 1051.2,2664.7 1053.8,2690.6 C1056.4,2716.5 1059.1,2736.6 1061.5,2768.2 C1063.9,2799.8 1065.9,2839.7 1068.3,2880.0 C1070.7,2920.3 1073.2,2972.7 1075.7,3009.8 C1078.2,3047.0 1081.1,3074.5 1083.5,3102.9 C1085.9,3131.3 1087.9,3158.5 1090.0,3180.0 C1092.1,3201.5 1094.0,3219.2 1096.0,3232.0 C1098.0,3244.8 1100.2,3251.2 1102.0,3257.0 C1103.8,3262.8 1105.5,3264.9 1107.0,3267.0 C1108.5,3269.1 1109.8,3270.1 1111.3,3269.4 C1112.8,3268.7 1114.4,3267.9 1116.0,3263.0 C1117.6,3258.1 1118.9,3253.7 1121.0,3240.0 C1123.1,3226.3 1126.5,3203.9 1128.5,3180.6 C1130.5,3157.3 1131.5,3131.8 1133.0,3100.0 C1134.5,3068.2 1136.0,3028.3 1137.5,2990.0 C1139.0,2951.7 1140.6,2911.7 1142.0,2870.0 C1143.4,2828.3 1144.7,2790.0 1146.0,2740.0 C1147.3,2690.0 1148.7,2610.7 1150.0,2570.0 C1151.3,2529.3 1152.8,2517.5 1154.0,2496.0 C1155.2,2474.5 1156.2,2455.8 1157.5,2441.0 C1158.8,2426.2 1160.1,2416.7 1161.5,2407.0 C1162.9,2397.3 1164.2,2389.3 1166.0,2383.0 C1167.8,2376.7 1168.0,2372.7 1172.0,2369.0 C1176.0,2365.3 1178.7,2363.0 1190.0,2361.0 C1201.3,2359.0 1229.6,2357.8 1240.0,2357.0 C1250.4,2356.2 1248.7,2356.3 1252.4,2356.1 C1256.0,2356.0 1258.7,2356.3 1261.9,2356.1 C1265.2,2356.0 1268.6,2355.4 1272.0,2355.3 C1275.3,2355.2 1278.5,2355.5 1282.0,2355.5 C1285.6,2355.6 1289.4,2355.9 1293.3,2355.7 C1297.1,2355.6 1301.5,2354.7 1305.2,2354.5 C1308.9,2354.3 1311.4,2354.4 1315.5,2354.3 C1319.6,2354.1 1325.3,2353.6 1329.7,2353.7 C1334.1,2353.7 1337.4,2354.4 1341.9,2354.4 C1346.4,2354.3 1351.8,2353.5 1356.7,2353.3 C1361.7,2353.1 1367.4,2353.4 1371.6,2353.1 C1375.9,2352.9 1378.8,2351.9 1382.2,2351.8 C1385.7,2351.8 1389.5,2352.7 1392.4,2352.8 C1395.4,2352.8 1396.3,2352.0 1400.0,2352.0 C1403.7,2352.0 1409.8,2352.8 1414.9,2352.8 C1419.9,2352.8 1426.2,2352.0 1430.3,2351.8 C1434.4,2351.6 1436.1,2351.4 1439.4,2351.4 C1442.6,2351.5 1445.8,2351.9 1449.9,2352.1 C1454.0,2352.3 1459.2,2352.4 1463.8,2352.5 C1468.4,2352.6 1473.2,2352.7 1477.7,2352.5 C1482.3,2352.4 1486.5,2351.8 1491.2,2351.6 C1495.9,2351.4 1501.2,2351.1 1506.1,2351.2 C1510.9,2351.2 1515.6,2352.0 1520.5,2351.9 C1525.4,2351.9 1531.3,2350.6 1535.6,2350.7 C1539.8,2350.7 1542.5,2352.1 1545.9,2352.2 C1549.3,2352.3 1552.0,2351.5 1555.9,2351.3 C1559.8,2351.1 1564.4,2351.2 1569.1,2351.3 C1573.8,2351.4 1579.8,2352.2 1584.3,2352.1 C1588.7,2352.0 1591.2,2350.7 1595.6,2350.6 C1600.1,2350.4 1606.7,2351.1 1611.0,2351.1 C1615.4,2351.1 1618.5,2350.5 1621.8,2350.5 C1625.1,2350.5 1627.5,2351.1 1630.9,2351.2 C1634.2,2351.4 1637.4,2351.2 1641.8,2351.2 C1646.2,2351.1 1652.1,2351.1 1657.3,2351.0 C1662.5,2350.8 1668.0,2350.1 1673.0,2350.1 C1678.0,2350.2 1682.3,2351.4 1687.3,2351.3 C1692.3,2351.3 1698.3,2350.0 1703.0,2350.0 C1707.7,2349.9 1711.2,2350.7 1715.5,2350.9 C1719.8,2351.0 1724.7,2350.6 1728.7,2350.7 C1732.7,2350.7 1735.3,2351.3 1739.6,2351.4 C1744.0,2351.4 1749.6,2351.1 1754.8,2351.0 C1759.9,2350.8 1766.3,2350.7 1770.5,2350.6 C1774.7,2350.6 1776.8,2350.8 1780.0,2350.9 C1783.3,2350.9 1785.9,2351.1 1789.8,2350.9 C1793.7,2350.8 1799.4,2350.1 1803.3,2349.9 C1807.3,2349.7 1810.0,2349.4 1813.4,2349.6 C1816.8,2349.8 1820.1,2351.0 1823.6,2351.2 C1827.1,2351.4 1830.8,2351.2 1834.2,2351.0 C1837.6,2350.8 1840.4,2350.1 1844.2,2350.0 C1847.9,2349.8 1851.8,2350.0 1856.5,2350.0 C1861.1,2349.9 1867.5,2349.7 1872.2,2349.7 C1876.9,2349.6 1880.9,2349.4 1884.6,2349.6 C1888.3,2349.7 1890.8,2350.3 1894.4,2350.4 C1897.9,2350.5 1901.5,2350.2 1905.7,2350.0 C1909.9,2349.8 1915.7,2349.2 1919.6,2349.2 C1923.5,2349.3 1924.7,2350.3 1929.0,2350.3 C1933.2,2350.2 1940.2,2348.9 1944.9,2349.0 C1949.6,2349.1 1952.6,2350.4 1957.1,2350.7 C1961.6,2351.0 1967.3,2350.7 1971.9,2350.6 C1976.5,2350.6 1980.9,2350.7 1984.6,2350.6 C1988.3,2350.4 1990.0,2349.8 1994.0,2349.6 C1998.1,2349.4 2004.4,2349.4 2009.0,2349.4 C2013.5,2349.4 2017.1,2349.4 2021.0,2349.5 C2025.0,2349.6 2028.1,2350.2 2032.7,2350.1 C2037.3,2350.0 2044.0,2349.0 2048.5,2349.0 C2053.0,2349.0 2055.5,2349.8 2059.8,2350.0 C2064.0,2350.1 2069.3,2349.9 2074.0,2349.9 C2078.6,2349.9 2083.0,2350.1 2087.7,2350.0 C2092.5,2350.0 2098.3,2349.8 2102.7,2349.5 C2107.0,2349.2 2109.3,2348.4 2113.6,2348.5 C2118.0,2348.5 2123.6,2349.8 2128.7,2349.8 C2133.7,2349.8 2139.0,2348.7 2143.9,2348.7 C2148.8,2348.7 2154.6,2349.7 2158.1,2349.8 C2161.6,2349.9 2163.8,2349.1 2165.0,2349.0"/>
<path stroke="#0000FF" d="M340.5,2346.0 C343.1,2346.0 351.4,2345.9 356.4,2346.0 C361.3,2346.0 366.3,2346.6 370.4,2346.5 C374.5,2346.4 376.9,2345.5 380.9,2345.3 C384.8,2345.1 390.0,2345.2 394.1,2345.4 C398.3,2345.7 401.3,2346.8 405.8,2346.8 C410.2,2346.8 416.8,2345.7 420.9,2345.5 C425.0,2345.3 426.4,2345.7 430.5,2345.7 C434.5,2345.7 441.0,2345.4 445.3,2345.3 C449.5,2345.3 452.4,2345.4 455.8,2345.5 C459.2,2345.7 462.4,2346.2 465.7,2346.3 C469.1,2346.4 471.9,2346.0 476.0,2346.1 C480.1,2346.2 485.8,2346.6 490.1,2346.7 C494.5,2346.8 497.9,2346.8 502.1,2346.8 C506.2,2346.9 511.1,2347.0 515.1,2346.9 C519.0,2346.8 521.8,2346.1 525.8,2346.1 C529.8,2346.2 534.5,2347.1 538.9,2347.2 C543.3,2347.2 548.2,2346.6 552.2,2346.4 C556.2,2346.2 559.4,2345.9 563.0,2346.0 C566.5,2346.2 569.2,2347.1 573.5,2347.3 C577.7,2347.5 584.2,2347.3 588.7,2347.2 C593.1,2347.1 595.8,2346.7 600.0,2346.5 C604.2,2346.3 609.6,2346.3 614.0,2346.2 C618.3,2346.2 622.3,2346.0 626.3,2346.1 C630.4,2346.1 634.7,2346.1 638.3,2346.3 C641.9,2346.6 644.7,2347.4 648.0,2347.6 C651.2,2347.8 653.7,2347.7 657.6,2347.5 C661.6,2347.3 667.2,2346.2 671.5,2346.3 C675.9,2346.4 679.2,2347.8 683.9,2348.0 C688.7,2348.2 693.8,2347.5 699.8,2347.4 C705.9,2347.3 714.3,2347.5 720.0,2347.4 C725.7,2347.3 729.5,2347.0 734.0,2347.0 C738.4,2347.1 742.7,2347.4 746.8,2347.6 C750.9,2347.7 754.6,2347.9 758.6,2348.0 C762.5,2348.0 767.1,2348.0 770.7,2347.8 C774.3,2347.7 777.0,2347.3 780.1,2347.3 C783.3,2347.3 785.4,2347.6 789.4,2347.7 C793.5,2347.7 799.9,2347.5 804.6,2347.5 C809.2,2347.5 813.6,2347.7 817.5,2347.6 C821.4,2347.6 823.6,2347.2 828.1,2347.2 C832.7,2347.2 839.7,2349.0 844.8,2347.4 C849.9,2345.8 854.3,2335.8 858.7,2337.7 C863.1,2339.5 867.0,2358.1 871.2,2358.5 C875.4,2358.9 880.7,2340.0 883.7,2340.0 C886.7,2340.0 886.4,2356.6 889.2,2358.5 C892.0,2360.4 896.1,2352.3 900.3,2351.6 C904.5,2350.9 909.1,2353.0 914.2,2354.4 C919.3,2355.8 923.9,2357.5 930.8,2360.0 C937.7,2362.5 947.0,2365.9 955.8,2369.6 C964.6,2373.3 976.9,2378.8 983.5,2382.1 C990.1,2385.4 990.9,2385.2 995.5,2389.7 C1000.1,2394.2 1006.5,2401.0 1011.0,2409.1 C1015.5,2417.2 1019.5,2426.9 1022.7,2438.2 C1026.0,2449.5 1027.9,2460.8 1030.5,2477.0 C1033.1,2493.2 1035.6,2512.7 1038.2,2535.3 C1040.8,2558.0 1043.4,2587.0 1046.0,2612.9 C1048.6,2638.8 1051.2,2664.7 1053.8,2690.6 C1056.4,2716.5 1059.1,2736.6 1061.5,2768.2 C1063.9,2799.8 1065.9,2839.7 1068.3,2880.0 C1070.7,2920.3 1073.2,2972.7 1075.7,3009.8 C1078.2,3047.0 1080.9,3074.4 1083.5,3102.9 C1086.1,3131.4 1088.1,3161.2 1091.2,3180.6 C1094.3,3200.0 1098.7,3211.4 1102.1,3219.4 C1105.5,3227.4 1108.8,3232.6 1111.4,3228.7 C1114.0,3224.8 1115.5,3214.4 1117.6,3196.0 C1119.7,3177.6 1121.8,3152.0 1123.9,3118.4 C1126.0,3084.8 1128.2,3035.6 1130.0,2994.2 C1131.8,2952.8 1133.0,2917.4 1134.5,2870.0 C1136.0,2822.6 1137.7,2755.0 1139.2,2710.0 C1140.7,2665.0 1142.1,2635.6 1143.5,2600.0 C1144.9,2564.4 1146.5,2522.9 1147.7,2496.4 C1149.0,2469.9 1149.7,2455.8 1151.0,2441.0 C1152.3,2426.2 1153.9,2417.0 1155.5,2407.7 C1157.1,2398.4 1158.0,2391.0 1160.5,2385.0 C1163.0,2379.0 1163.5,2375.9 1170.7,2371.8 C1178.0,2367.7 1165.8,2363.6 1204.0,2360.3 C1242.2,2357.0 1365.1,2353.4 1400.0,2352.0 C1434.9,2350.6 1409.2,2351.8 1413.5,2351.7 C1417.8,2351.7 1421.7,2351.5 1425.9,2351.6 C1430.1,2351.7 1434.7,2352.1 1438.7,2352.2 C1442.8,2352.2 1445.7,2352.2 1450.0,2352.1 C1454.4,2352.1 1459.8,2351.9 1465.0,2351.8 C1470.1,2351.7 1475.6,2351.5 1480.8,2351.3 C1486.1,2351.2 1491.8,2350.9 1496.3,2351.0 C1500.8,2351.2 1504.4,2352.0 1507.8,2352.1 C1511.3,2352.2 1513.0,2351.7 1517.1,2351.7 C1521.1,2351.7 1527.3,2352.4 1532.2,2352.3 C1537.0,2352.2 1541.7,2351.2 1545.9,2351.1 C1550.1,2351.0 1553.8,2351.7 1557.3,2351.6 C1560.7,2351.5 1562.6,2350.5 1566.7,2350.5 C1570.8,2350.4 1577.7,2351.4 1581.9,2351.5 C1586.1,2351.6 1588.5,2351.0 1592.0,2351.1 C1595.6,2351.1 1599.4,2351.8 1603.1,2351.8 C1606.7,2351.9 1609.9,2351.7 1614.1,2351.5 C1618.3,2351.3 1624.1,2350.8 1628.3,2350.7 C1632.4,2350.7 1635.3,2351.0 1639.0,2351.1 C1642.8,2351.1 1647.0,2351.1 1650.8,2351.1 C1654.7,2351.2 1658.3,2351.6 1662.1,2351.5 C1666.0,2351.3 1669.7,2350.2 1674.1,2350.2 C1678.5,2350.2 1683.8,2351.4 1688.5,2351.5 C1693.2,2351.6 1697.4,2350.8 1702.3,2350.8 C1707.1,2350.8 1713.3,2351.5 1717.4,2351.5 C1721.4,2351.4 1723.4,2350.8 1726.4,2350.6 C1729.5,2350.4 1732.3,2350.3 1735.6,2350.3 C1738.9,2350.3 1742.2,2350.4 1746.3,2350.5 C1750.3,2350.6 1755.9,2351.3 1760.0,2351.2 C1764.1,2351.0 1766.3,2349.6 1770.8,2349.6 C1775.3,2349.6 1782.0,2350.9 1786.8,2350.9 C1791.6,2350.9 1796.0,2349.6 1799.7,2349.7 C1803.4,2349.7 1805.4,2350.9 1809.0,2351.1 C1812.7,2351.3 1817.2,2351.0 1821.7,2350.9 C1826.3,2350.8 1831.4,2350.9 1836.2,2350.7 C1841.1,2350.5 1846.6,2349.8 1850.9,2349.7 C1855.1,2349.6 1857.4,2349.8 1861.6,2350.0 C1865.8,2350.1 1871.2,2350.5 1876.0,2350.6 C1880.7,2350.6 1885.8,2350.3 1890.3,2350.1 C1894.7,2349.9 1898.3,2349.4 1902.6,2349.4 C1906.9,2349.4 1911.9,2350.0 1916.3,2350.2 C1920.6,2350.3 1924.1,2350.2 1928.9,2350.2 C1933.6,2350.3 1940.5,2350.7 1944.7,2350.6 C1949.0,2350.4 1950.6,2349.4 1954.5,2349.3 C1958.3,2349.2 1963.7,2349.8 1967.8,2350.0 C1971.8,2350.2 1974.9,2350.4 1978.8,2350.4 C1982.6,2350.4 1987.4,2350.3 1991.0,2350.0 C1994.6,2349.8 1997.3,2349.1 2000.3,2349.1 C2003.4,2349.1 2005.9,2349.8 2009.5,2350.0 C2013.1,2350.2 2017.8,2350.4 2022.2,2350.3 C2026.5,2350.1 2031.3,2349.3 2035.4,2349.1 C2039.5,2348.9 2043.2,2349.2 2046.9,2349.1 C2050.5,2349.0 2053.3,2348.6 2057.3,2348.6 C2061.3,2348.6 2066.5,2348.7 2070.8,2348.9 C2075.1,2349.1 2079.2,2349.5 2083.0,2349.6 C2086.9,2349.6 2090.2,2349.2 2093.9,2349.0 C2097.6,2348.9 2101.0,2348.9 2105.2,2348.8 C2109.3,2348.7 2114.7,2348.3 2118.9,2348.3 C2123.0,2348.4 2125.6,2348.4 2130.0,2349.0 C2134.4,2349.6 2139.2,2352.0 2145.0,2352.0 C2150.8,2352.0 2161.7,2349.5 2165.0,2349.0"/>
<path stroke="#00FFFF" d="M340.5,2342.0 C343.1,2342.3 351.2,2343.6 356.2,2344.0 C361.2,2344.3 366.1,2343.6 370.3,2343.9 C374.6,2344.2 377.3,2345.5 381.7,2345.7 C386.0,2346.0 392.2,2345.3 396.3,2345.7 C400.4,2346.1 403.1,2347.6 406.5,2348.1 C409.8,2348.6 412.8,2348.3 416.3,2348.5 C419.8,2348.7 423.5,2349.1 427.6,2349.4 C431.7,2349.7 436.6,2349.9 441.0,2350.2 C445.4,2350.5 450.0,2350.7 454.1,2351.0 C458.1,2351.3 461.2,2351.9 465.3,2352.3 C469.4,2352.6 473.5,2352.5 478.7,2352.9 C483.9,2353.3 491.3,2354.0 496.4,2354.4 C501.5,2354.8 505.3,2354.8 509.2,2355.2 C513.0,2355.7 516.1,2356.4 519.4,2356.8 C522.7,2357.3 525.1,2357.4 529.1,2357.9 C533.2,2358.4 539.9,2359.4 543.7,2359.8 C547.5,2360.1 548.6,2359.6 552.0,2360.0 C555.4,2360.4 560.0,2361.4 563.9,2361.9 C567.8,2362.5 571.7,2362.9 575.4,2363.2 C579.0,2363.5 582.5,2363.7 585.8,2364.0 C589.0,2364.2 591.4,2364.3 595.0,2364.6 C598.6,2364.8 603.2,2365.0 607.4,2365.5 C611.6,2366.0 615.5,2366.9 620.2,2367.9 C624.9,2368.8 630.8,2370.3 635.6,2371.1 C640.4,2371.8 644.7,2372.5 649.0,2372.4 C653.3,2372.3 657.6,2371.0 661.7,2370.5 C665.7,2370.1 669.7,2369.9 673.3,2369.8 C676.9,2369.7 680.5,2369.9 683.4,2369.8 C686.3,2369.7 687.7,2369.3 690.6,2369.0 C693.5,2368.7 696.5,2368.3 700.7,2368.3 C704.8,2368.3 710.5,2368.7 715.4,2368.9 C720.3,2369.1 725.3,2369.5 730.0,2369.6 C734.7,2369.7 738.9,2369.8 743.3,2369.8 C747.8,2369.7 752.4,2369.3 756.8,2369.2 C761.1,2369.1 765.5,2369.3 769.5,2369.3 C773.5,2369.3 776.5,2369.4 780.7,2369.3 C784.8,2369.3 789.7,2369.2 794.5,2369.1 C799.4,2369.0 805.1,2369.0 809.8,2368.8 C814.4,2368.7 817.9,2368.2 822.4,2368.0 C826.9,2367.9 832.6,2367.9 836.5,2367.9 C840.4,2368.0 842.5,2368.4 845.7,2368.4 C849.0,2368.3 852.4,2367.7 856.1,2367.4 C859.9,2367.1 863.2,2366.6 868.3,2366.5 C873.3,2366.4 881.2,2366.9 886.4,2366.9 C891.6,2366.9 895.1,2367.1 899.5,2366.8 C903.9,2366.5 908.4,2365.4 912.8,2365.2 C917.2,2365.0 920.9,2365.9 925.8,2365.7 C930.6,2365.5 936.7,2364.1 941.9,2364.0 C947.1,2363.9 952.0,2364.6 956.8,2365.1 C961.6,2365.7 966.2,2366.6 970.6,2367.3 C975.1,2368.1 977.7,2367.5 983.5,2369.6 C989.3,2371.7 998.4,2373.4 1005.2,2380.0 C1012.1,2386.6 1019.4,2397.8 1024.6,2409.1 C1029.8,2420.4 1032.4,2426.9 1036.3,2447.9 C1040.2,2468.9 1044.0,2504.6 1047.9,2535.3 C1051.8,2566.0 1056.0,2600.0 1059.6,2632.3 C1063.2,2664.7 1066.1,2688.1 1069.3,2729.4 C1072.5,2770.7 1075.9,2834.9 1078.5,2880.0 C1081.1,2925.1 1082.9,2963.3 1085.0,3000.0 C1087.1,3036.7 1089.0,3070.0 1091.0,3100.0 C1093.0,3130.0 1095.0,3158.3 1097.0,3180.0 C1099.0,3201.7 1101.2,3217.5 1103.0,3230.0 C1104.8,3242.5 1106.5,3249.8 1108.0,3255.0 C1109.5,3260.2 1110.5,3261.8 1112.0,3261.0 C1113.5,3260.2 1115.3,3256.5 1117.0,3250.0 C1118.7,3243.5 1120.1,3233.6 1122.0,3222.0 C1123.9,3210.4 1126.7,3200.9 1128.5,3180.6 C1130.3,3160.3 1131.5,3131.8 1133.0,3100.0 C1134.5,3068.2 1136.0,3028.3 1137.5,2990.0 C1139.0,2951.7 1140.6,2911.7 1142.0,2870.0 C1143.4,2828.3 1144.7,2790.0 1146.0,2740.0 C1147.3,2690.0 1148.7,2610.7 1150.0,2570.0 C1151.3,2529.3 1152.8,2517.5 1154.0,2496.0 C1155.2,2474.5 1156.2,2455.8 1157.5,2441.0 C1158.8,2426.2 1160.1,2416.7 1161.5,2407.0 C1162.9,2397.3 1164.2,2389.3 1166.0,2383.0 C1167.8,2376.7 1168.0,2372.7 1172.0,2369.0 C1176.0,2365.3 1178.7,2363.0 1190.0,2361.0 C1201.3,2359.0 1229.8,2357.8 1240.0,2357.0 C1250.2,2356.2 1247.8,2356.2 1251.3,2356.0 C1254.8,2355.8 1257.5,2355.8 1260.9,2355.7 C1264.3,2355.6 1267.3,2355.6 1271.5,2355.4 C1275.7,2355.2 1282.0,2354.7 1286.1,2354.5 C1290.3,2354.3 1292.7,2354.2 1296.5,2354.1 C1300.3,2354.0 1304.9,2354.0 1309.1,2353.9 C1313.3,2353.8 1317.9,2353.5 1321.8,2353.5 C1325.6,2353.4 1328.8,2353.5 1332.2,2353.5 C1335.5,2353.6 1337.9,2354.0 1341.7,2353.9 C1345.4,2353.7 1350.3,2352.7 1354.6,2352.5 C1358.9,2352.4 1363.2,2353.2 1367.4,2353.0 C1371.7,2352.9 1376.1,2351.9 1379.9,2351.6 C1383.7,2351.2 1387.1,2351.2 1390.4,2351.1 C1393.8,2351.0 1396.2,2351.1 1400.0,2351.0 C1403.8,2350.9 1408.5,2350.7 1413.3,2350.6 C1418.1,2350.4 1424.1,2350.1 1428.6,2350.3 C1433.0,2350.4 1435.6,2351.3 1440.1,2351.4 C1444.6,2351.5 1451.4,2350.9 1455.5,2350.8 C1459.6,2350.7 1461.0,2351.1 1464.6,2350.9 C1468.1,2350.8 1472.6,2349.9 1476.5,2350.0 C1480.5,2350.0 1484.5,2351.4 1488.0,2351.5 C1491.4,2351.5 1494.0,2350.2 1497.2,2350.2 C1500.5,2350.1 1503.9,2351.1 1507.4,2351.3 C1511.0,2351.4 1514.4,2351.3 1518.6,2351.0 C1522.7,2350.8 1528.0,2350.0 1532.3,2349.8 C1536.6,2349.6 1539.9,2349.8 1544.4,2349.9 C1548.8,2350.1 1554.6,2350.4 1559.0,2350.6 C1563.3,2350.8 1566.1,2351.3 1570.5,2351.1 C1574.9,2351.0 1581.2,2349.9 1585.3,2349.7 C1589.4,2349.6 1591.5,2350.1 1595.0,2350.2 C1598.4,2350.3 1602.3,2350.2 1606.1,2350.4 C1610.0,2350.5 1613.9,2351.1 1618.1,2351.3 C1622.4,2351.4 1627.3,2351.5 1631.8,2351.2 C1636.3,2351.0 1640.8,2350.1 1645.2,2349.9 C1649.6,2349.6 1653.8,2349.8 1658.1,2349.7 C1662.5,2349.7 1666.5,2349.6 1671.2,2349.6 C1676.0,2349.7 1681.6,2349.9 1686.7,2349.9 C1691.9,2349.9 1697.7,2349.7 1702.0,2349.7 C1706.3,2349.7 1708.3,2349.6 1712.5,2349.7 C1716.7,2349.9 1722.4,2350.6 1727.2,2350.7 C1732.1,2350.8 1737.4,2350.4 1741.4,2350.2 C1745.5,2350.1 1748.3,2349.5 1751.5,2349.6 C1754.7,2349.7 1757.5,2350.7 1760.7,2350.8 C1763.9,2351.0 1767.4,2350.6 1770.6,2350.4 C1773.7,2350.2 1775.9,2349.8 1779.6,2349.6 C1783.3,2349.5 1789.0,2349.2 1792.8,2349.4 C1796.6,2349.6 1798.9,2350.7 1802.3,2350.7 C1805.7,2350.6 1809.2,2349.0 1813.3,2349.0 C1817.5,2349.0 1822.8,2350.8 1827.2,2350.8 C1831.7,2350.8 1835.9,2349.1 1840.1,2349.0 C1844.2,2348.9 1848.2,2349.9 1852.0,2350.0 C1855.8,2350.1 1858.5,2349.6 1862.7,2349.6 C1866.8,2349.6 1872.1,2349.9 1876.9,2350.0 C1881.7,2350.2 1887.1,2350.4 1891.7,2350.5 C1896.3,2350.6 1900.6,2350.7 1904.3,2350.5 C1908.1,2350.4 1910.2,2349.7 1914.2,2349.7 C1918.1,2349.7 1923.6,2350.4 1927.9,2350.4 C1932.2,2350.4 1935.6,2349.6 1940.2,2349.5 C1944.8,2349.3 1951.3,2349.5 1955.4,2349.5 C1959.5,2349.5 1961.4,2349.4 1964.8,2349.4 C1968.2,2349.5 1971.4,2349.9 1975.7,2349.8 C1980.0,2349.6 1986.1,2348.6 1990.4,2348.6 C1994.8,2348.7 1997.3,2349.9 2001.6,2350.1 C2006.0,2350.4 2011.9,2349.9 2016.3,2349.9 C2020.7,2349.9 2023.6,2350.2 2028.0,2350.2 C2032.5,2350.2 2038.3,2350.0 2043.0,2349.9 C2047.6,2349.8 2052.0,2349.8 2055.8,2349.5 C2059.6,2349.3 2062.5,2348.6 2065.7,2348.4 C2068.9,2348.2 2071.2,2348.2 2074.8,2348.4 C2078.4,2348.7 2083.1,2349.8 2087.4,2350.0 C2091.6,2350.2 2095.9,2349.7 2100.4,2349.7 C2105.0,2349.7 2110.5,2350.0 2114.7,2349.9 C2118.9,2349.8 2121.2,2349.3 2125.6,2349.1 C2130.0,2348.9 2136.2,2348.8 2141.1,2348.8 C2146.0,2348.7 2151.0,2348.8 2155.0,2348.9 C2159.0,2348.9 2163.3,2349.0 2165.0,2349.0"/>
<path stroke="#FF00FF" d="M340.5,2370.0 C341.4,2367.2 343.8,2357.0 346.0,2353.0 C348.2,2349.0 350.3,2346.0 353.6,2346.0 C356.9,2346.0 361.4,2351.8 366.0,2353.0 C370.6,2354.2 376.2,2352.8 381.1,2353.0 C386.1,2353.2 391.4,2354.2 395.7,2354.4 C400.0,2354.6 403.1,2354.4 406.9,2354.2 C410.6,2354.1 414.4,2353.3 418.2,2353.4 C422.0,2353.4 425.9,2354.5 429.6,2354.6 C433.4,2354.8 436.8,2354.2 441.0,2354.4 C445.2,2354.6 450.6,2355.2 454.6,2355.6 C458.6,2356.0 460.6,2356.3 464.8,2356.8 C469.0,2357.3 476.4,2358.7 479.8,2358.5 C483.2,2358.3 481.6,2355.6 485.3,2355.8 C489.0,2356.1 497.2,2359.0 502.0,2360.0 C506.8,2361.0 509.6,2361.4 514.2,2361.7 C518.8,2362.0 524.4,2361.4 529.7,2361.7 C534.9,2362.1 541.9,2363.3 545.6,2363.7 C549.3,2364.1 548.5,2363.4 552.0,2364.0 C555.5,2364.6 562.5,2366.0 566.7,2367.0 C571.0,2368.0 573.0,2369.0 577.5,2369.9 C581.9,2370.9 588.5,2371.7 593.5,2372.6 C598.5,2373.5 602.6,2374.6 607.4,2375.2 C612.2,2375.8 617.5,2376.2 622.2,2376.4 C626.8,2376.7 630.3,2376.8 635.1,2376.6 C639.9,2376.4 645.9,2376.0 650.9,2375.3 C655.9,2374.6 660.8,2373.1 665.1,2372.4 C669.4,2371.6 672.7,2371.3 676.7,2371.0 C680.7,2370.7 684.9,2371.0 689.2,2370.8 C693.6,2370.7 698.3,2370.5 702.6,2370.3 C706.9,2370.0 710.7,2369.5 715.2,2369.2 C719.8,2368.9 725.1,2368.4 730.0,2368.3 C734.9,2368.2 739.8,2368.9 744.5,2368.7 C749.3,2368.4 754.1,2367.1 758.4,2366.8 C762.7,2366.5 766.6,2366.9 770.4,2366.8 C774.2,2366.7 777.8,2366.2 781.2,2366.2 C784.6,2366.2 786.9,2366.5 791.0,2366.6 C795.0,2366.7 800.4,2367.0 805.5,2366.9 C810.5,2366.8 817.0,2366.1 821.2,2365.9 C825.5,2365.7 827.6,2365.6 831.0,2365.5 C834.4,2365.4 837.1,2365.1 841.3,2365.2 C845.6,2365.4 851.6,2366.1 856.4,2366.4 C861.3,2366.8 866.0,2367.0 870.5,2367.4 C875.0,2367.7 879.1,2368.6 883.6,2368.7 C888.0,2368.8 892.1,2367.8 897.2,2368.0 C902.3,2368.1 909.4,2369.3 914.2,2369.6 C919.0,2369.9 921.1,2370.1 925.7,2369.9 C930.3,2369.7 937.4,2368.2 941.9,2368.3 C946.4,2368.4 948.0,2370.0 952.6,2370.6 C957.2,2371.3 965.3,2371.3 969.7,2372.4 C974.1,2373.5 975.6,2375.5 979.3,2377.1 C983.0,2378.8 986.9,2378.0 991.8,2382.1 C996.7,2386.2 1004.5,2395.2 1008.5,2401.5 C1012.5,2407.8 1013.2,2413.6 1016.0,2420.0 C1018.8,2426.4 1022.2,2430.5 1025.0,2440.0 C1027.8,2449.5 1030.4,2461.2 1033.0,2477.0 C1035.6,2492.8 1037.9,2512.3 1040.5,2535.0 C1043.1,2557.7 1045.9,2587.2 1048.5,2613.0 C1051.1,2638.8 1053.4,2664.2 1056.0,2690.0 C1058.6,2715.8 1061.5,2736.3 1064.0,2768.0 C1066.5,2799.7 1068.6,2839.7 1071.0,2880.0 C1073.4,2920.3 1076.0,2972.8 1078.5,3010.0 C1081.0,3047.2 1083.4,3074.7 1086.0,3103.0 C1088.6,3131.3 1091.0,3161.0 1094.0,3180.0 C1097.0,3199.0 1101.1,3208.9 1104.0,3217.0 C1106.9,3225.1 1109.1,3232.2 1111.4,3228.7 C1113.7,3225.2 1115.5,3214.4 1117.6,3196.0 C1119.7,3177.6 1121.8,3152.0 1123.9,3118.4 C1126.0,3084.8 1128.2,3035.6 1130.0,2994.2 C1131.8,2952.8 1133.0,2917.4 1134.5,2870.0 C1136.0,2822.6 1137.5,2760.0 1139.2,2710.0 C1140.9,2660.0 1143.0,2605.6 1144.4,2570.0 C1145.8,2534.4 1146.6,2517.9 1147.7,2496.4 C1148.8,2474.9 1149.7,2455.8 1151.0,2441.0 C1152.3,2426.2 1154.0,2417.3 1155.5,2407.7 C1157.0,2398.1 1158.1,2389.2 1159.9,2383.3 C1161.7,2377.4 1163.5,2375.3 1166.5,2372.2 C1169.5,2369.0 1173.5,2366.2 1177.6,2364.4 C1181.7,2362.6 1185.1,2362.1 1191.0,2361.1 C1196.9,2360.1 1205.0,2359.0 1213.2,2358.3 C1221.4,2357.7 1233.5,2357.5 1240.0,2357.2 C1246.5,2356.9 1247.9,2356.4 1252.4,2356.3 C1257.0,2356.1 1263.2,2356.3 1267.5,2356.2 C1271.8,2356.0 1273.9,2355.5 1278.2,2355.4 C1282.5,2355.2 1289.2,2355.3 1293.4,2355.3 C1297.6,2355.3 1299.3,2355.2 1303.2,2355.3 C1307.2,2355.4 1313.1,2356.1 1317.1,2356.1 C1321.2,2356.0 1324.1,2355.2 1327.6,2355.1 C1331.2,2355.0 1334.6,2355.3 1338.5,2355.3 C1342.4,2355.2 1346.4,2354.8 1350.9,2354.6 C1355.5,2354.4 1361.3,2354.3 1365.8,2354.0 C1370.3,2353.6 1374.3,2352.7 1378.1,2352.7 C1381.8,2352.6 1384.6,2353.6 1388.2,2353.7 C1391.9,2353.7 1395.9,2353.3 1400.0,2353.0 C1404.1,2352.7 1408.5,2352.1 1413.0,2352.2 C1417.6,2352.2 1422.4,2353.4 1427.3,2353.6 C1432.1,2353.8 1437.5,2353.5 1442.3,2353.3 C1447.0,2353.2 1451.7,2352.8 1455.9,2352.6 C1460.1,2352.4 1463.3,2352.3 1467.4,2352.3 C1471.6,2352.3 1476.2,2352.5 1480.9,2352.5 C1485.6,2352.5 1491.4,2352.4 1495.6,2352.3 C1499.9,2352.2 1502.8,2351.8 1506.5,2352.0 C1510.1,2352.1 1513.1,2353.0 1517.4,2353.2 C1521.7,2353.4 1528.2,2353.4 1532.2,2353.4 C1536.2,2353.4 1537.7,2353.1 1541.4,2353.0 C1545.1,2352.8 1549.6,2352.3 1554.4,2352.3 C1559.1,2352.3 1565.5,2352.8 1570.0,2352.9 C1574.4,2353.0 1577.3,2353.2 1581.1,2353.1 C1585.0,2353.0 1589.2,2352.6 1593.2,2352.4 C1597.3,2352.3 1602.0,2352.3 1605.6,2352.4 C1609.2,2352.5 1611.4,2353.0 1614.8,2353.0 C1618.1,2353.0 1622.3,2352.4 1625.9,2352.3 C1629.4,2352.2 1632.8,2352.6 1636.1,2352.5 C1639.4,2352.4 1642.3,2351.4 1645.6,2351.5 C1648.9,2351.6 1652.0,2352.8 1656.1,2353.0 C1660.1,2353.2 1666.0,2352.8 1669.9,2352.7 C1673.8,2352.6 1675.5,2352.2 1679.5,2352.2 C1683.5,2352.2 1689.3,2352.8 1693.7,2352.7 C1698.0,2352.5 1701.8,2351.4 1705.8,2351.4 C1709.8,2351.5 1713.0,2352.8 1717.5,2353.0 C1721.9,2353.1 1728.2,2352.5 1732.7,2352.3 C1737.1,2352.2 1740.1,2352.3 1744.2,2352.3 C1748.2,2352.2 1752.5,2352.0 1757.2,2352.0 C1761.9,2352.0 1768.0,2352.1 1772.2,2352.1 C1776.3,2352.2 1777.9,2352.6 1781.8,2352.4 C1785.8,2352.3 1791.3,2351.2 1795.7,2351.2 C1800.1,2351.3 1804.0,2352.6 1808.4,2352.8 C1812.8,2353.0 1817.6,2352.4 1821.9,2352.2 C1826.2,2352.0 1829.6,2351.9 1834.3,2351.7 C1839.0,2351.6 1845.5,2351.5 1850.2,2351.4 C1854.9,2351.3 1858.3,2351.0 1862.4,2351.1 C1866.6,2351.2 1870.6,2351.8 1875.0,2352.1 C1879.4,2352.3 1884.7,2352.7 1888.9,2352.6 C1893.0,2352.4 1896.0,2351.4 1899.7,2351.2 C1903.4,2351.0 1906.7,2351.4 1911.2,2351.4 C1915.7,2351.4 1922.0,2350.9 1926.6,2351.1 C1931.2,2351.3 1934.9,2352.4 1938.9,2352.5 C1942.9,2352.6 1946.8,2351.7 1950.8,2351.5 C1954.7,2351.3 1958.8,2351.1 1962.7,2351.2 C1966.6,2351.3 1970.5,2352.2 1973.9,2352.1 C1977.3,2352.0 1979.1,2350.7 1983.0,2350.7 C1987.0,2350.7 1993.2,2351.7 1997.7,2351.8 C2002.1,2352.0 2005.6,2351.5 2009.7,2351.4 C2013.7,2351.2 2017.9,2351.0 2022.0,2350.9 C2026.0,2350.9 2029.8,2351.1 2034.0,2351.1 C2038.2,2351.1 2042.8,2351.1 2047.1,2351.0 C2051.5,2350.9 2055.4,2350.6 2060.3,2350.4 C2065.1,2350.3 2071.5,2350.3 2076.2,2350.4 C2080.9,2350.4 2084.8,2350.7 2088.5,2351.0 C2092.2,2351.3 2094.7,2352.1 2098.4,2352.0 C2102.1,2352.0 2106.6,2350.8 2110.5,2350.6 C2114.4,2350.3 2117.8,2350.3 2121.8,2350.6 C2125.9,2350.8 2129.9,2352.0 2134.7,2352.0 C2139.4,2352.0 2145.3,2350.7 2150.4,2350.6 C2155.5,2350.4 2162.6,2350.9 2165.0,2351.0"/>
<path stroke="#FFFF00" d="M340.5,2340.5 C342.9,2340.2 350.3,2338.6 355.0,2339.0 C359.7,2339.4 365.1,2341.9 369.0,2342.9 C372.8,2343.9 375.3,2344.6 378.1,2345.1 C380.8,2345.6 382.7,2345.7 385.5,2346.0 C388.3,2346.3 390.9,2346.9 394.9,2347.0 C398.9,2347.1 404.5,2346.5 409.5,2346.7 C414.6,2346.8 420.7,2347.4 425.3,2347.8 C430.0,2348.1 433.2,2348.6 437.5,2348.9 C441.8,2349.2 447.2,2349.6 451.3,2349.8 C455.4,2349.9 458.8,2349.8 462.3,2349.8 C465.7,2349.9 468.5,2349.9 472.2,2350.0 C476.0,2350.0 480.6,2350.0 484.7,2350.2 C488.7,2350.5 492.0,2351.2 496.4,2351.6 C500.8,2352.0 506.6,2352.4 511.1,2352.8 C515.6,2353.3 518.8,2353.6 523.1,2354.1 C527.5,2354.6 532.5,2355.2 537.3,2356.0 C542.1,2356.7 547.2,2357.5 552.0,2358.5 C556.8,2359.5 561.7,2360.8 566.2,2362.0 C570.7,2363.1 574.9,2364.4 579.1,2365.5 C583.3,2366.5 586.8,2367.1 591.6,2368.3 C596.3,2369.4 603.1,2371.4 607.4,2372.4 C611.7,2373.4 613.9,2373.6 617.4,2374.4 C620.8,2375.2 625.2,2376.4 628.1,2377.2 C631.1,2378.1 632.2,2379.1 635.1,2379.3 C638.0,2379.5 642.0,2378.4 645.6,2378.1 C649.2,2377.9 653.6,2377.7 656.5,2377.6 C659.4,2377.6 659.2,2377.6 662.9,2378.0 C666.6,2378.4 673.3,2379.6 678.6,2380.2 C683.8,2380.9 689.9,2381.2 694.2,2381.6 C698.6,2382.0 700.8,2382.7 704.5,2382.7 C708.2,2382.7 711.9,2382.0 716.2,2381.4 C720.4,2380.8 725.6,2379.7 730.0,2379.3 C734.4,2378.9 738.3,2378.8 742.7,2378.8 C747.1,2378.8 751.8,2379.5 756.3,2379.3 C760.9,2379.1 765.5,2377.7 770.0,2377.6 C774.4,2377.4 778.8,2378.4 783.1,2378.3 C787.4,2378.2 792.1,2376.9 795.9,2376.8 C799.6,2376.6 801.6,2377.3 805.5,2377.4 C809.5,2377.4 815.3,2377.0 819.6,2376.9 C823.8,2376.8 827.0,2376.4 831.0,2376.6 C835.0,2376.8 840.0,2377.5 843.8,2377.8 C847.7,2378.1 850.2,2378.4 854.4,2378.3 C858.5,2378.3 864.5,2377.7 868.6,2377.8 C872.7,2377.8 875.0,2378.2 879.2,2378.6 C883.4,2379.0 889.7,2379.6 893.7,2379.9 C897.7,2380.3 899.7,2380.5 903.2,2380.6 C906.6,2380.7 911.0,2380.2 914.2,2380.7 C917.4,2381.2 919.3,2385.6 922.5,2383.5 C925.7,2381.4 925.7,2371.8 933.6,2368.3 C941.5,2364.8 959.1,2363.2 969.7,2362.7 C980.3,2362.2 990.0,2363.2 997.4,2365.5 C1004.8,2367.8 1008.9,2372.0 1014.0,2376.6 C1019.1,2381.2 1024.2,2387.6 1027.9,2393.2 C1031.6,2398.8 1033.8,2400.9 1036.2,2410.0 C1038.6,2419.1 1039.2,2428.6 1042.1,2447.9 C1045.0,2467.2 1050.2,2501.3 1053.8,2525.6 C1057.4,2549.9 1060.3,2562.8 1063.5,2593.5 C1066.7,2624.2 1070.0,2662.2 1073.2,2710.0 C1076.4,2757.8 1080.1,2830.0 1082.9,2880.0 C1085.7,2930.0 1087.7,2971.7 1090.0,3010.0 C1092.3,3048.3 1094.7,3080.0 1097.0,3110.0 C1099.3,3140.0 1101.8,3168.3 1104.0,3190.0 C1106.2,3211.7 1108.3,3228.5 1110.0,3240.0 C1111.7,3251.5 1112.8,3254.7 1114.0,3259.0 C1115.2,3263.3 1116.1,3266.1 1117.4,3265.6 C1118.7,3265.1 1120.4,3259.8 1122.0,3256.0 C1123.6,3252.2 1125.1,3257.9 1127.0,3242.7 C1128.9,3227.5 1131.1,3201.2 1133.2,3165.0 C1135.3,3128.8 1137.3,3074.5 1139.4,3025.3 C1141.5,2976.1 1143.8,2920.9 1145.6,2870.0 C1147.4,2819.1 1148.7,2770.0 1150.0,2720.0 C1151.3,2670.0 1152.1,2607.3 1153.2,2570.0 C1154.3,2532.7 1155.5,2517.9 1156.6,2496.4 C1157.7,2474.9 1158.8,2455.8 1159.9,2441.0 C1161.0,2426.2 1161.9,2417.9 1163.2,2407.7 C1164.5,2397.5 1165.9,2387.4 1167.7,2380.0 C1169.5,2372.6 1170.4,2367.2 1174.3,2363.3 C1178.2,2359.4 1182.7,2358.2 1191.0,2356.6 C1199.3,2355.0 1212.7,2354.5 1224.2,2353.9 C1235.7,2353.3 1251.5,2353.3 1260.0,2353.0 C1268.5,2352.7 1270.9,2352.4 1275.0,2352.3 C1279.2,2352.1 1281.1,2352.2 1284.8,2352.2 C1288.4,2352.1 1292.8,2352.2 1297.0,2352.1 C1301.2,2351.9 1305.8,2351.4 1309.7,2351.2 C1313.7,2351.0 1316.2,2350.9 1320.7,2350.9 C1325.1,2350.9 1332.1,2351.4 1336.6,2351.3 C1341.1,2351.3 1343.5,2350.8 1347.6,2350.5 C1351.6,2350.3 1356.9,2349.9 1360.8,2349.9 C1364.7,2350.0 1367.1,2350.8 1370.9,2350.9 C1374.7,2351.1 1378.8,2350.9 1383.6,2350.7 C1388.5,2350.6 1395.4,2350.0 1400.0,2350.0 C1404.6,2350.0 1407.0,2350.4 1411.3,2350.4 C1415.6,2350.5 1421.3,2350.5 1425.9,2350.5 C1430.5,2350.5 1435.0,2350.6 1438.7,2350.4 C1442.3,2350.2 1444.2,2349.4 1447.9,2349.3 C1451.6,2349.2 1456.5,2349.9 1460.9,2349.9 C1465.3,2350.0 1470.4,2349.7 1474.2,2349.7 C1478.0,2349.6 1480.3,2349.4 1483.6,2349.5 C1486.8,2349.5 1490.4,2349.9 1494.0,2350.1 C1497.5,2350.2 1500.7,2350.3 1504.6,2350.2 C1508.5,2350.1 1513.0,2349.5 1517.4,2349.5 C1521.7,2349.5 1526.6,2350.5 1530.7,2350.4 C1534.8,2350.2 1537.6,2349.0 1542.0,2348.8 C1546.4,2348.6 1552.0,2349.1 1557.0,2349.2 C1562.0,2349.3 1567.7,2349.4 1572.2,2349.5 C1576.8,2349.7 1580.5,2350.0 1584.1,2350.1 C1587.7,2350.2 1590.4,2350.2 1593.9,2350.1 C1597.4,2350.1 1600.4,2350.0 1604.8,2350.0 C1609.3,2349.9 1616.0,2350.0 1620.5,2350.0 C1625.0,2350.1 1627.9,2350.4 1631.9,2350.2 C1635.9,2350.1 1640.5,2349.3 1644.6,2349.0 C1648.6,2348.7 1652.0,2348.5 1656.1,2348.6 C1660.3,2348.6 1665.2,2349.0 1669.6,2349.2 C1674.0,2349.4 1678.3,2350.1 1682.5,2350.0 C1686.7,2349.8 1690.4,2348.6 1694.6,2348.4 C1698.9,2348.1 1703.4,2348.3 1707.8,2348.5 C1712.2,2348.6 1716.8,2349.1 1721.0,2349.2 C1725.2,2349.4 1729.5,2349.5 1733.2,2349.4 C1736.8,2349.4 1739.4,2349.0 1742.8,2348.8 C1746.1,2348.7 1749.8,2348.6 1753.2,2348.6 C1756.6,2348.5 1758.9,2348.3 1763.1,2348.5 C1767.2,2348.8 1773.3,2349.7 1778.0,2349.9 C1782.8,2350.0 1787.6,2349.7 1791.4,2349.5 C1795.1,2349.3 1796.6,2348.6 1800.5,2348.7 C1804.3,2348.7 1810.6,2349.5 1814.5,2349.7 C1818.4,2349.8 1819.7,2350.0 1823.9,2349.8 C1828.1,2349.5 1835.1,2348.1 1839.7,2348.1 C1844.3,2348.1 1847.6,2349.6 1851.5,2349.6 C1855.4,2349.6 1858.8,2348.3 1862.9,2348.2 C1867.0,2348.1 1871.4,2349.0 1876.0,2349.0 C1880.6,2349.0 1885.9,2348.4 1890.4,2348.2 C1894.9,2348.1 1898.2,2347.9 1902.9,2348.1 C1907.6,2348.3 1913.3,2349.4 1918.5,2349.4 C1923.7,2349.3 1929.8,2348.0 1934.1,2347.9 C1938.5,2347.9 1940.6,2348.9 1944.4,2349.1 C1948.2,2349.3 1952.4,2349.4 1956.7,2349.2 C1961.0,2348.9 1966.3,2347.7 1970.2,2347.7 C1974.1,2347.6 1976.6,2348.8 1980.0,2348.9 C1983.5,2349.0 1986.9,2348.5 1990.9,2348.3 C1995.0,2348.1 2000.4,2347.6 2004.3,2347.6 C2008.1,2347.6 2010.8,2348.3 2014.0,2348.4 C2017.1,2348.5 2019.6,2348.2 2023.1,2348.1 C2026.6,2348.0 2031.2,2347.5 2034.8,2347.6 C2038.4,2347.7 2040.5,2348.7 2044.4,2348.8 C2048.3,2348.9 2053.9,2348.2 2058.2,2348.3 C2062.5,2348.3 2066.3,2349.1 2070.4,2349.0 C2074.4,2348.9 2078.5,2347.8 2082.6,2347.6 C2086.8,2347.5 2090.9,2348.1 2095.2,2348.2 C2099.4,2348.2 2103.8,2348.0 2108.1,2347.9 C2112.3,2347.7 2116.2,2347.1 2120.6,2347.3 C2124.9,2347.4 2129.6,2348.6 2134.3,2348.8 C2138.9,2349.0 2143.3,2348.8 2148.4,2348.7 C2153.5,2348.5 2162.2,2348.1 2165.0,2348.0"/>
<path stroke="#808000" d="M340.5,2340.5 C342.4,2340.5 347.8,2339.1 352.0,2340.5 C356.2,2341.9 361.9,2347.4 366.0,2348.8 C370.1,2350.2 372.3,2349.0 376.7,2349.2 C381.1,2349.3 387.8,2349.6 392.5,2349.6 C397.2,2349.6 401.2,2349.0 404.9,2349.1 C408.6,2349.3 410.8,2350.7 414.9,2350.7 C418.9,2350.8 424.8,2349.6 429.2,2349.5 C433.5,2349.4 436.7,2349.8 441.0,2350.2 C445.3,2350.6 450.8,2351.8 455.0,2352.1 C459.1,2352.3 462.4,2351.6 465.9,2351.7 C469.5,2351.9 471.2,2352.6 476.2,2353.1 C481.3,2353.5 490.7,2354.1 496.4,2354.4 C502.1,2354.7 506.3,2354.8 510.5,2355.1 C514.8,2355.4 518.5,2355.7 522.1,2356.1 C525.8,2356.6 528.9,2357.6 532.3,2358.0 C535.6,2358.4 539.1,2358.2 542.3,2358.6 C545.6,2358.9 548.4,2359.5 552.0,2360.0 C555.6,2360.5 560.2,2361.3 564.0,2361.6 C567.7,2361.9 570.9,2361.8 574.6,2361.9 C578.3,2361.9 582.6,2361.7 586.4,2362.1 C590.2,2362.4 594.0,2363.5 597.5,2363.8 C601.0,2364.2 603.4,2363.3 607.4,2364.0 C611.4,2364.7 616.6,2367.3 621.3,2368.3 C626.0,2369.3 630.8,2369.5 635.4,2369.7 C640.0,2370.0 644.9,2370.0 649.0,2369.6 C653.1,2369.2 656.1,2367.9 660.1,2367.2 C664.1,2366.6 668.0,2366.6 673.1,2365.8 C678.1,2365.1 685.1,2363.2 690.6,2362.7 C696.1,2362.2 700.7,2363.1 705.9,2363.1 C711.1,2363.0 717.8,2362.7 721.8,2362.6 C725.8,2362.4 726.2,2362.2 730.0,2362.1 C733.8,2362.0 739.7,2361.8 744.6,2361.8 C749.5,2361.8 754.7,2362.4 759.2,2362.2 C763.7,2362.1 767.7,2361.1 771.8,2360.9 C775.8,2360.7 779.3,2361.2 783.4,2361.2 C787.5,2361.2 792.3,2360.8 796.4,2360.7 C800.5,2360.7 803.9,2360.9 808.1,2361.0 C812.4,2361.0 818.1,2361.2 821.9,2361.1 C825.7,2360.9 828.0,2360.2 831.0,2360.0 C834.0,2359.8 836.2,2359.9 840.1,2360.0 C844.0,2360.1 849.7,2360.6 854.3,2360.6 C858.9,2360.7 863.5,2360.2 867.6,2360.4 C871.8,2360.6 876.2,2361.7 879.3,2361.9 C882.4,2362.0 882.7,2361.1 886.4,2361.3 C890.1,2361.5 896.5,2362.7 901.5,2363.1 C906.6,2363.6 912.6,2363.9 917.0,2364.0 C921.4,2364.2 922.9,2364.7 928.0,2364.0 C933.1,2363.3 941.7,2359.7 947.5,2360.0 C953.3,2360.3 959.1,2364.5 962.8,2365.6 C966.5,2366.8 964.9,2365.2 969.7,2366.9 C974.5,2368.6 984.7,2370.6 991.6,2376.0 C998.5,2381.4 1005.2,2389.0 1011.0,2399.4 C1016.8,2409.8 1022.1,2422.0 1026.6,2438.2 C1031.1,2454.4 1034.3,2470.6 1038.2,2496.5 C1042.1,2522.4 1046.3,2561.2 1049.9,2593.5 C1053.5,2625.8 1056.7,2661.5 1059.6,2690.6 C1062.5,2719.7 1064.7,2736.6 1067.3,2768.2 C1069.9,2799.8 1073.0,2841.4 1075.4,2880.0 C1077.9,2918.6 1079.6,2963.3 1082.0,3000.0 C1084.4,3036.7 1087.3,3071.7 1090.0,3100.0 C1092.7,3128.3 1095.3,3152.5 1098.0,3170.0 C1100.7,3187.5 1103.3,3196.8 1106.0,3205.0 C1108.7,3213.2 1112.0,3217.8 1114.0,3219.0 C1116.0,3220.2 1116.3,3215.8 1118.0,3212.0 C1119.7,3208.2 1121.9,3211.6 1123.9,3196.0 C1125.9,3180.4 1128.2,3152.0 1130.0,3118.4 C1131.8,3084.8 1132.9,3035.6 1134.7,2994.2 C1136.5,2952.8 1139.3,2912.4 1141.0,2870.0 C1142.7,2827.6 1143.7,2790.0 1145.0,2740.0 C1146.3,2690.0 1147.6,2610.6 1148.8,2570.0 C1150.0,2529.4 1151.0,2517.9 1152.1,2496.4 C1153.2,2474.9 1154.2,2455.8 1155.5,2441.0 C1156.8,2426.2 1158.4,2416.9 1159.9,2407.7 C1161.4,2398.4 1162.8,2391.4 1164.3,2385.5 C1165.8,2379.6 1166.2,2376.1 1168.8,2372.2 C1171.4,2368.3 1175.3,2364.6 1179.9,2362.2 C1184.5,2359.8 1190.0,2359.0 1196.5,2357.7 C1203.0,2356.4 1213.0,2356.1 1218.7,2354.4 C1224.5,2352.7 1226.5,2346.8 1231.0,2347.4 C1235.5,2348.0 1242.1,2355.3 1245.6,2358.2 C1249.1,2361.0 1249.8,2364.2 1251.9,2364.5 C1254.0,2364.8 1256.4,2362.2 1258.1,2360.3 C1259.8,2358.4 1254.0,2354.4 1262.3,2353.0 C1270.6,2351.6 1298.4,2352.2 1308.0,2352.0 C1317.6,2351.8 1315.5,2351.6 1319.9,2351.6 C1324.2,2351.7 1329.5,2352.5 1334.2,2352.4 C1338.9,2352.3 1344.0,2351.4 1347.9,2351.0 C1351.8,2350.6 1354.3,2350.3 1357.5,2350.2 C1360.7,2350.0 1363.9,2350.0 1367.0,2350.0 C1370.0,2350.0 1372.6,2350.1 1376.0,2350.3 C1379.3,2350.5 1383.1,2351.2 1387.1,2351.2 C1391.1,2351.1 1396.2,2350.1 1400.0,2350.0 C1403.8,2349.9 1405.5,2350.8 1409.6,2350.8 C1413.8,2350.8 1420.4,2350.2 1425.1,2350.0 C1429.8,2349.8 1433.8,2349.7 1437.9,2349.6 C1442.0,2349.5 1446.1,2349.2 1449.7,2349.4 C1453.2,2349.6 1455.2,2350.6 1459.4,2350.8 C1463.5,2351.0 1470.3,2350.7 1474.4,2350.5 C1478.6,2350.4 1481.2,2350.1 1484.5,2350.1 C1487.7,2350.0 1490.7,2350.2 1493.9,2350.2 C1497.1,2350.2 1500.1,2349.9 1503.4,2349.9 C1506.7,2350.0 1509.3,2350.7 1513.5,2350.7 C1517.8,2350.6 1523.8,2349.6 1528.9,2349.5 C1534.0,2349.4 1540.0,2350.1 1544.3,2350.2 C1548.6,2350.3 1550.3,2350.5 1554.6,2350.3 C1558.8,2350.1 1564.9,2349.3 1569.7,2349.1 C1574.5,2348.9 1579.6,2349.1 1583.4,2349.1 C1587.2,2349.2 1589.4,2349.3 1592.6,2349.4 C1595.8,2349.6 1598.6,2350.2 1602.5,2350.1 C1606.5,2350.0 1612.2,2349.2 1616.4,2348.9 C1620.7,2348.7 1624.4,2348.4 1628.3,2348.5 C1632.2,2348.6 1635.4,2349.3 1639.8,2349.6 C1644.2,2349.9 1649.9,2350.3 1654.6,2350.3 C1659.3,2350.2 1663.2,2349.3 1667.9,2349.2 C1672.7,2349.0 1678.1,2349.5 1683.1,2349.4 C1688.0,2349.4 1692.8,2349.1 1697.7,2348.9 C1702.7,2348.8 1708.5,2348.6 1713.0,2348.6 C1717.5,2348.5 1720.8,2348.5 1724.7,2348.6 C1728.6,2348.7 1731.8,2349.4 1736.4,2349.4 C1740.9,2349.3 1747.1,2348.3 1751.9,2348.2 C1756.7,2348.0 1760.4,2348.3 1765.0,2348.5 C1769.6,2348.7 1774.6,2349.3 1779.7,2349.5 C1784.8,2349.7 1790.6,2350.1 1795.5,2349.9 C1800.4,2349.7 1804.5,2348.6 1809.0,2348.4 C1813.6,2348.3 1818.9,2348.9 1823.1,2348.8 C1827.2,2348.7 1829.6,2348.1 1833.9,2348.1 C1838.3,2348.1 1845.0,2348.7 1849.2,2348.7 C1853.4,2348.7 1855.9,2348.4 1859.2,2348.2 C1862.5,2348.1 1865.1,2347.8 1869.1,2347.9 C1873.2,2348.0 1879.1,2348.6 1883.4,2348.7 C1887.6,2348.8 1890.8,2348.4 1894.5,2348.4 C1898.1,2348.4 1901.4,2348.8 1905.4,2348.7 C1909.4,2348.6 1914.2,2347.7 1918.4,2347.8 C1922.5,2347.9 1926.0,2349.2 1930.3,2349.4 C1934.6,2349.5 1940.0,2348.8 1944.3,2348.6 C1948.6,2348.4 1952.4,2348.3 1956.1,2348.2 C1959.7,2348.1 1962.8,2348.2 1966.1,2348.1 C1969.4,2348.0 1972.6,2347.3 1975.9,2347.6 C1979.2,2347.8 1981.5,2349.5 1985.8,2349.4 C1990.0,2349.4 1996.9,2347.8 2001.5,2347.5 C2006.0,2347.2 2009.1,2347.4 2012.9,2347.6 C2016.8,2347.8 2020.7,2348.5 2024.4,2348.6 C2028.1,2348.7 2031.6,2348.3 2035.1,2348.2 C2038.6,2348.2 2041.9,2348.4 2045.3,2348.3 C2048.7,2348.3 2051.7,2348.0 2055.4,2347.9 C2059.0,2347.8 2063.2,2347.7 2067.2,2347.8 C2071.3,2347.9 2075.6,2348.6 2079.7,2348.8 C2083.8,2349.0 2088.0,2348.9 2091.7,2348.9 C2095.4,2348.9 2097.7,2348.6 2101.9,2348.6 C2106.1,2348.6 2111.9,2349.2 2116.7,2349.0 C2121.5,2348.9 2125.9,2347.8 2130.5,2347.7 C2135.1,2347.6 2140.1,2348.2 2144.4,2348.3 C2148.6,2348.4 2152.7,2348.3 2156.2,2348.2 C2159.6,2348.2 2163.5,2348.0 2165.0,2348.0"/>
</g>
<rect x="340.5" y="2253.3" width="1822.0" height="1468.9" fill="none" stroke="#000" stroke-width="5"/>
<g stroke="#000" stroke-width="5" fill="none"><line x1="340.5" y1="2252.5" x2="325.5" y2="2252.5"/><line x1="340.5" y1="2344.3" x2="311.5" y2="2344.3"/><line x1="340.5" y1="2436.1" x2="325.5" y2="2436.1"/><line x1="340.5" y1="2528.0" x2="311.5" y2="2528.0"/><line x1="340.5" y1="2619.8" x2="325.5" y2="2619.8"/><line x1="340.5" y1="2711.7" x2="311.5" y2="2711.7"/><line x1="340.5" y1="2803.5" x2="325.5" y2="2803.5"/><line x1="340.5" y1="2895.4" x2="311.5" y2="2895.4"/><line x1="340.5" y1="2987.2" x2="325.5" y2="2987.2"/><line x1="340.5" y1="3079.0" x2="311.5" y2="3079.0"/><line x1="340.5" y1="3170.9" x2="325.5" y2="3170.9"/><line x1="340.5" y1="3262.7" x2="311.5" y2="3262.7"/><line x1="340.5" y1="3354.6" x2="325.5" y2="3354.6"/><line x1="340.5" y1="3446.4" x2="311.5" y2="3446.4"/><line x1="340.5" y1="3538.3" x2="325.5" y2="3538.3"/><line x1="340.5" y1="3630.1" x2="311.5" y2="3630.1"/><line x1="340.5" y1="3721.9" x2="325.5" y2="3721.9"/></g>
<g font-family='"Liberation Sans", Arial, sans-serif' font-size="64" text-anchor="end" fill="#000"><text x="292" y="2363.8">0.0</text><text x="292" y="2547.5">-0.5</text><text x="292" y="2731.2">-1.0</text><text x="292" y="2914.9">-1.5</text><text x="292" y="3098.5">-2.0</text><text x="292" y="3282.2">-2.5</text><text x="292" y="3465.9">-3.0</text><text x="292" y="3649.6">-3.5</text></g>
<text transform="translate(98,2943.5) rotate(-90)" font-family='"Liberation Sans", Arial, sans-serif' font-size="77" text-anchor="middle">DTG (% /ºC)</text>
<g stroke="#000" stroke-width="5" fill="none"><line x1="387.8" y1="3722.2" x2="387.8" y2="3736.2"/><line x1="506.1" y1="3722.2" x2="506.1" y2="3750.2"/><line x1="624.4" y1="3722.2" x2="624.4" y2="3736.2"/><line x1="742.7" y1="3722.2" x2="742.7" y2="3750.2"/><line x1="861.0" y1="3722.2" x2="861.0" y2="3736.2"/><line x1="979.3" y1="3722.2" x2="979.3" y2="3750.2"/><line x1="1097.7" y1="3722.2" x2="1097.7" y2="3736.2"/><line x1="1216.0" y1="3722.2" x2="1216.0" y2="3750.2"/><line x1="1334.3" y1="3722.2" x2="1334.3" y2="3736.2"/><line x1="1452.6" y1="3722.2" x2="1452.6" y2="3750.2"/><line x1="1570.9" y1="3722.2" x2="1570.9" y2="3736.2"/><line x1="1689.2" y1="3722.2" x2="1689.2" y2="3750.2"/><line x1="1807.5" y1="3722.2" x2="1807.5" y2="3736.2"/><line x1="1925.8" y1="3722.2" x2="1925.8" y2="3750.2"/><line x1="2044.1" y1="3722.2" x2="2044.1" y2="3736.2"/><line x1="2162.4" y1="3722.2" x2="2162.4" y2="3750.2"/></g>
<g font-family='"Liberation Sans", Arial, sans-serif' font-size="64" text-anchor="middle" fill="#000"><text x="506.1" y="3819.8">100</text><text x="742.7" y="3819.8">200</text><text x="979.3" y="3819.8">300</text><text x="1216.0" y="3819.8">400</text><text x="1452.6" y="3819.8">500</text><text x="1689.2" y="3819.8">600</text><text x="1925.8" y="3819.8">700</text><text x="2162.4" y="3819.8">800</text></g>
<text x="1253.0" y="3936.9" font-family='"Liberation Sans", Arial, sans-serif' font-size="77.6" text-anchor="middle">Temperature (ºC)</text>
<g stroke-width="4.5"><line x1="359" y1="3132.4" x2="487.3" y2="3132.4" stroke="#000000"/><line x1="359" y1="3200.7" x2="487.3" y2="3200.7" stroke="#FF0000"/><line x1="359" y1="3269.1" x2="487.3" y2="3269.1" stroke="#00FF00"/><line x1="359" y1="3337.4" x2="487.3" y2="3337.4" stroke="#0000FF"/><line x1="359" y1="3405.7" x2="487.3" y2="3405.7" stroke="#00FFFF"/><line x1="359" y1="3474.1" x2="487.3" y2="3474.1" stroke="#FF00FF"/><line x1="359" y1="3542.4" x2="487.3" y2="3542.4" stroke="#FFFF00"/><line x1="359" y1="3610.7" x2="487.3" y2="3610.7" stroke="#808000"/></g>
<g font-family='"Liberation Sans", Arial, sans-serif' font-size="55.4" fill="#000"><text x="498" y="3150.9">PLA</text><text x="498" y="3219.2">PLA-DCP</text><text x="498" y="3287.6">PLA-PO</text><text x="498" y="3355.9">PLA-PO-DCP</text><text x="498" y="3424.2">PLA-PO-10MTC</text><text x="498" y="3492.6">PLA-PO-10MTC-DCP</text><text x="498" y="3560.9">PLA-PO-20MTC</text><text x="498" y="3629.2">PLA-PO-20MTC-DCP</text></g>
</svg></body></html>
